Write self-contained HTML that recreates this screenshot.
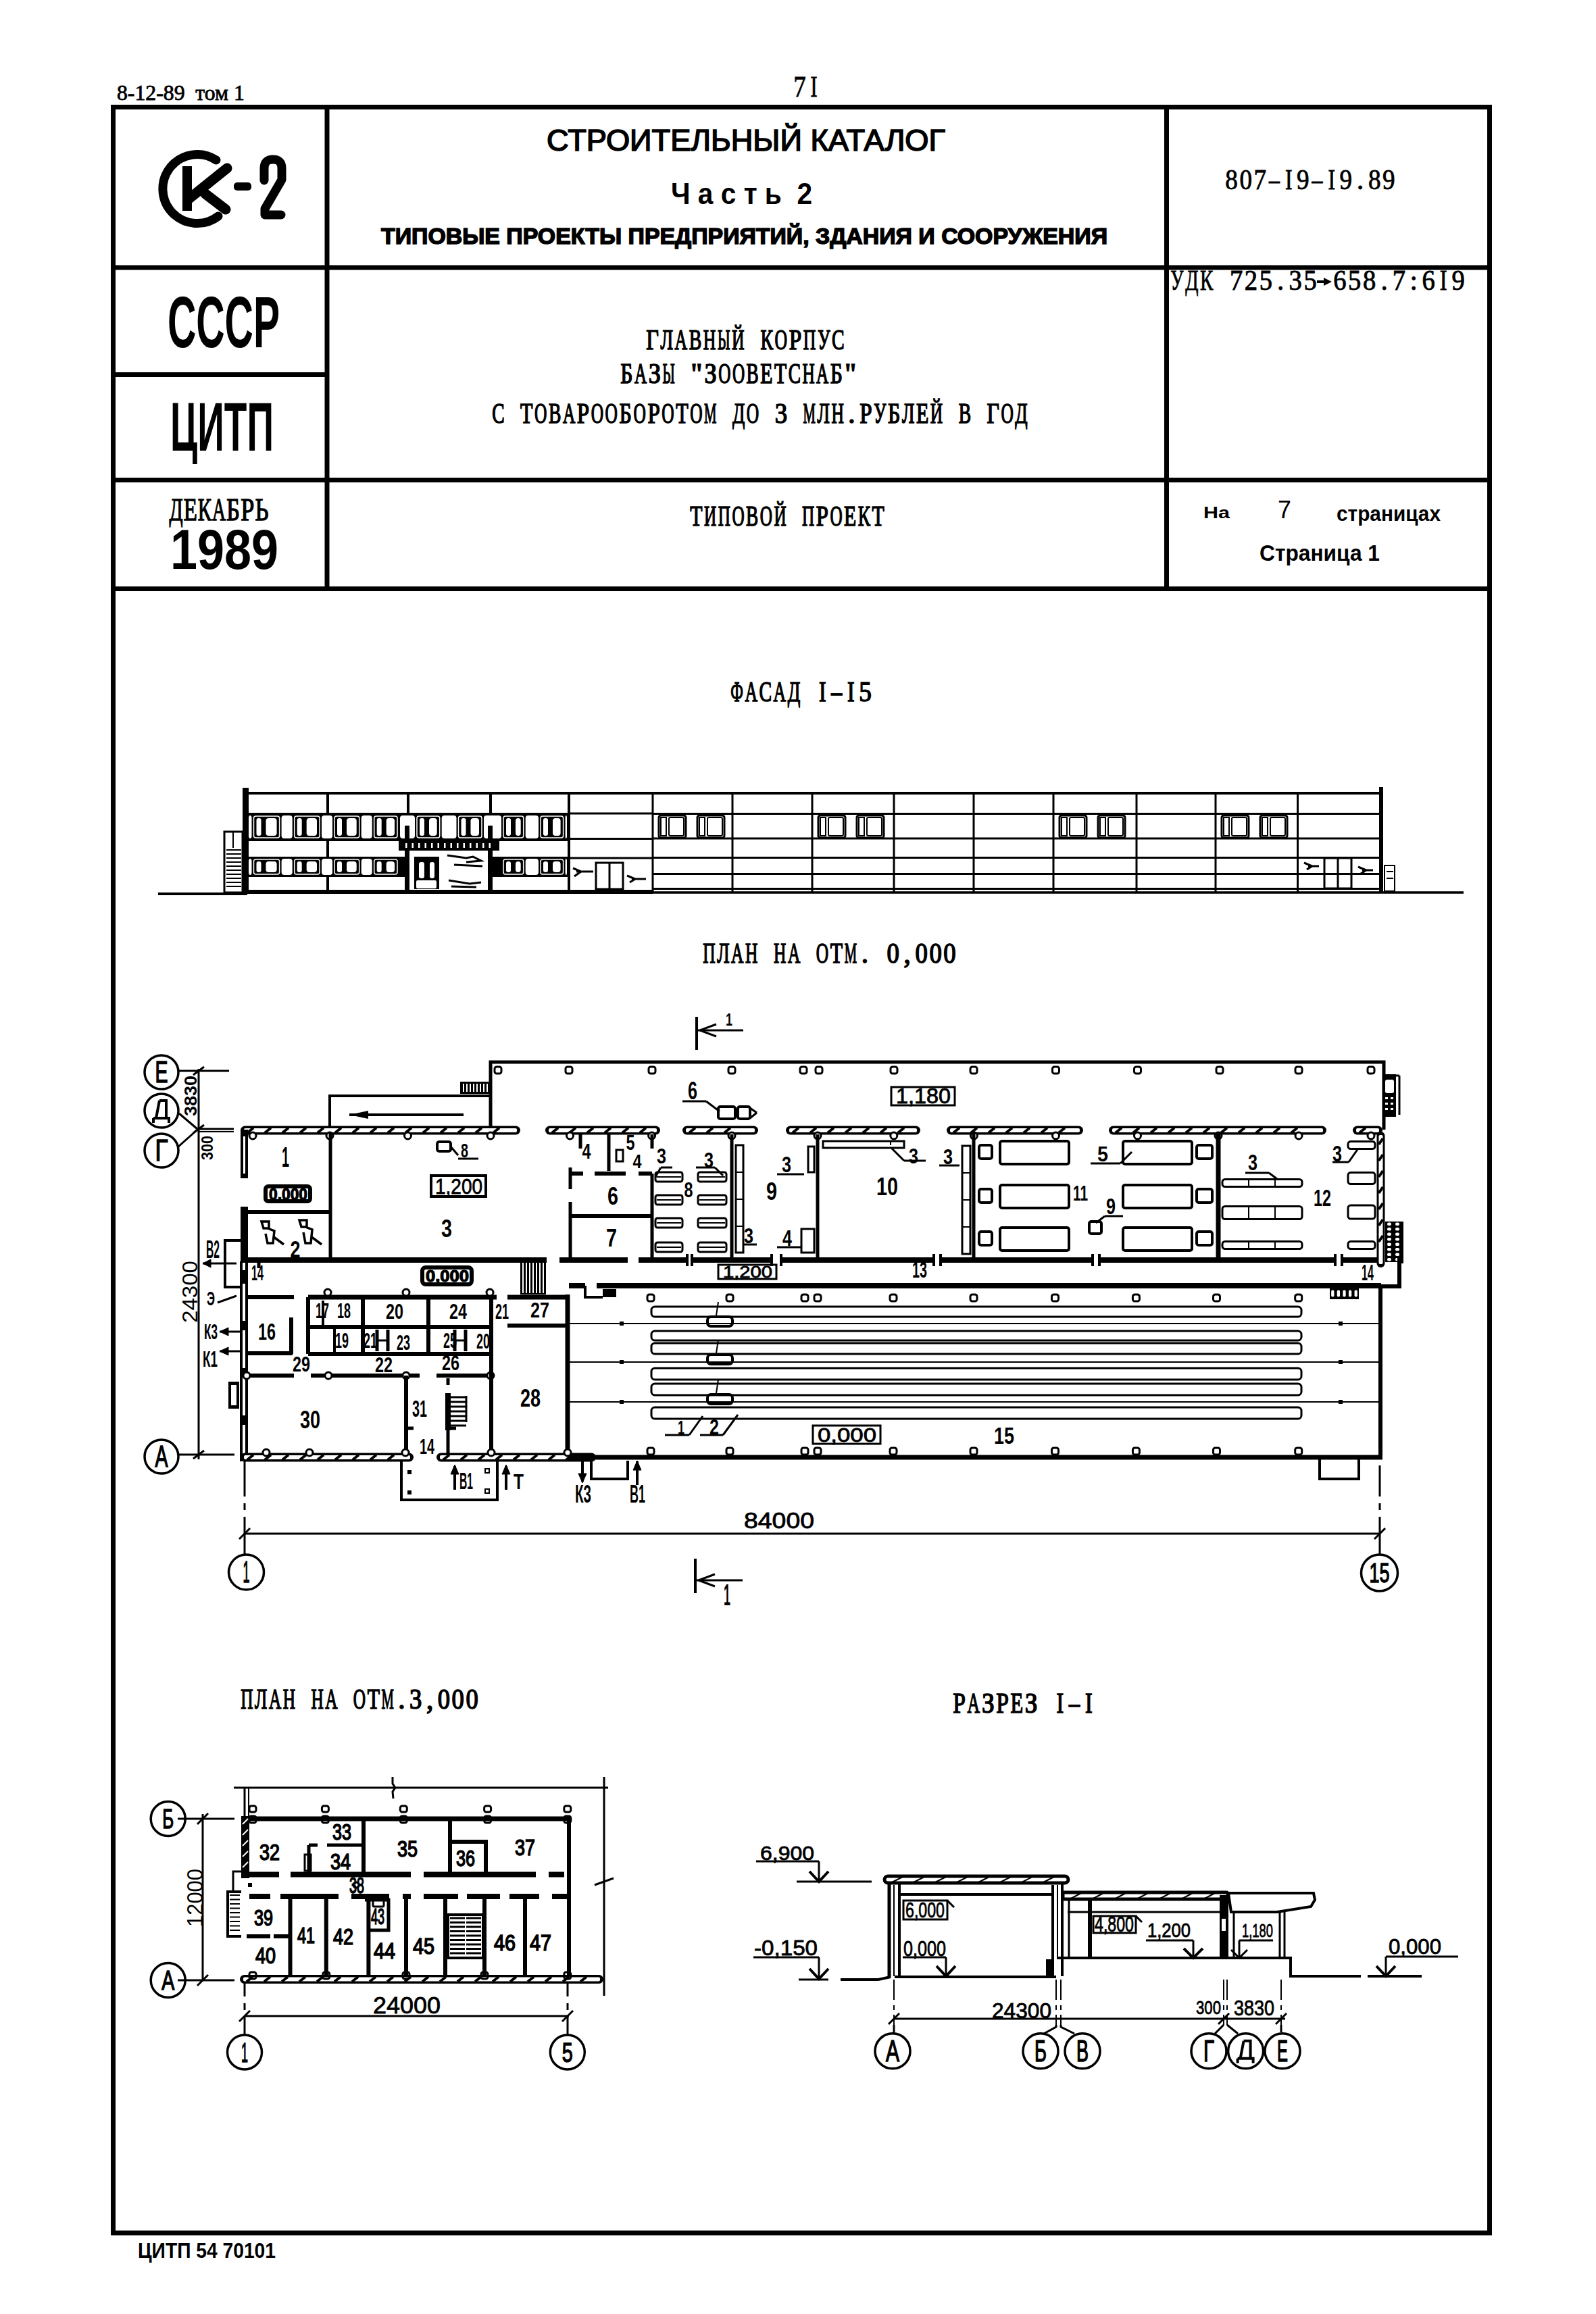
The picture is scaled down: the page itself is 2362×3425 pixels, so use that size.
<!DOCTYPE html>
<html><head><meta charset="utf-8"><style>
html,body{margin:0;padding:0;background:#fff;}
svg{display:block;}
</style></head><body>
<svg width="2362" height="3425" viewBox="0 0 2362 3425">
<rect x="0" y="0" width="2362" height="3425" fill="#fff"/>
<g stroke="#000" stroke-linecap="butt" fill="none">
<rect x="167.5" y="158.5" width="2037" height="3146.5" fill="none" stroke-width="7" rx="0"/>
<line x1="484" y1="157" x2="484" y2="871" stroke-width="7"/>
<line x1="1726.5" y1="157" x2="1726.5" y2="871" stroke-width="7"/>
<line x1="166" y1="396" x2="2205" y2="396" stroke-width="7"/>
<line x1="166" y1="554.5" x2="484" y2="554.5" stroke-width="7"/>
<line x1="166" y1="710.5" x2="2205" y2="710.5" stroke-width="7"/>
<line x1="166" y1="871.5" x2="2205" y2="871.5" stroke-width="7"/>
<text x="173" y="148" font-family="Liberation Serif" font-size="30.5" font-weight="normal" textLength="189.0" lengthAdjust="spacingAndGlyphs" stroke="#000" stroke-width="0.8" fill="#000" >8-12-89&#160;&#160;том 1</text>
<g font-family="Liberation Serif" font-size="44.3" font-weight="normal" stroke="#000" stroke-width="0.8" fill="#000"><text x="1174.3" y="143" textLength="18.5" lengthAdjust="spacingAndGlyphs">7</text><text x="1199.2" y="143" textLength="10.5" lengthAdjust="spacingAndGlyphs">I</text></g>
<path d="M320,237 A51,51 0 1 0 323,320" fill="none" stroke-width="13" stroke-linecap="round"/>
<path d="M277,246 L277,312" fill="none" stroke-width="14"/>
<path d="M280,294 L336,249 M304,287 L334,310" fill="none" stroke-width="15" stroke-linecap="round"/>
<rect x="346" y="270" width="26" height="12" fill="#000" stroke="none" rx="5"/>
<path d="M391,267 L391,249 Q391,236 404,236 Q417,236 417,249 L417,266 L392,309 L392,318 L416,318" fill="none" stroke-width="13" stroke-linecap="round" stroke-linejoin="round"/>
<text x="809" y="223" font-family="Liberation Sans" font-size="43.6" font-weight="normal" textLength="590.0" lengthAdjust="spacingAndGlyphs" stroke="#000" stroke-width="1.6" fill="#000" >СТРОИТЕЛЬНЫЙ&#160;КАТАЛОГ</text>
<text x="993" y="302" font-family="Liberation Sans" font-size="43.6" font-weight="bold" textLength="209.0" lengthAdjust="spacingAndGlyphs" stroke="none" fill="#000" >Ч&#160;а&#160;с&#160;т&#160;ь&#160;&#160;2</text>
<text x="564" y="361" font-family="Liberation Sans" font-size="33.4" font-weight="bold" textLength="1075.0" lengthAdjust="spacingAndGlyphs" stroke="#000" stroke-width="1.5" fill="#000" >ТИПОВЫЕ ПРОЕКТЫ ПРЕДПРИЯТИЙ, ЗДАНИЯ И СООРУЖЕНИЯ</text>
<g font-family="Liberation Serif" font-size="42.7" font-weight="normal" stroke="#000" stroke-width="0.9" fill="#000"><text x="1813.3" y="280" textLength="18.6" lengthAdjust="spacingAndGlyphs">8</text><text x="1834.4" y="280" textLength="18.6" lengthAdjust="spacingAndGlyphs">0</text><text x="1855.6" y="280" textLength="18.6" lengthAdjust="spacingAndGlyphs">7</text><text x="1878.1" y="280" textLength="15.9" lengthAdjust="spacingAndGlyphs">–</text><text x="1902.0" y="280" textLength="10.6" lengthAdjust="spacingAndGlyphs">I</text><text x="1919.1" y="280" textLength="18.6" lengthAdjust="spacingAndGlyphs">9</text><text x="1941.6" y="280" textLength="15.9" lengthAdjust="spacingAndGlyphs">–</text><text x="1965.5" y="280" textLength="10.6" lengthAdjust="spacingAndGlyphs">I</text><text x="1982.6" y="280" textLength="18.6" lengthAdjust="spacingAndGlyphs">9</text><text x="2013.1" y="280" text-anchor="middle">.</text><text x="2024.9" y="280" textLength="18.6" lengthAdjust="spacingAndGlyphs">8</text><text x="2046.1" y="280" textLength="18.6" lengthAdjust="spacingAndGlyphs">9</text></g>
<g font-family="Liberation Serif" font-size="41.2" font-weight="normal" stroke="#000" stroke-width="0.9" fill="#000"><text x="1732.3" y="429" textLength="19.3" lengthAdjust="spacingAndGlyphs">У</text><text x="1754.2" y="429" textLength="19.3" lengthAdjust="spacingAndGlyphs">Д</text><text x="1776.1" y="429" textLength="19.3" lengthAdjust="spacingAndGlyphs">К</text><text x="1819.9" y="429" textLength="19.3" lengthAdjust="spacingAndGlyphs">7</text><text x="1841.8" y="429" textLength="19.3" lengthAdjust="spacingAndGlyphs">2</text><text x="1863.7" y="429" textLength="19.3" lengthAdjust="spacingAndGlyphs">5</text><text x="1895.2" y="429" text-anchor="middle">.</text><text x="1907.5" y="429" textLength="19.3" lengthAdjust="spacingAndGlyphs">3</text><text x="1929.4" y="429" textLength="19.3" lengthAdjust="spacingAndGlyphs">5</text><text x="1973.2" y="429" textLength="19.3" lengthAdjust="spacingAndGlyphs">6</text><text x="1995.1" y="429" textLength="19.3" lengthAdjust="spacingAndGlyphs">5</text><text x="2017.0" y="429" textLength="19.3" lengthAdjust="spacingAndGlyphs">8</text><text x="2048.6" y="429" text-anchor="middle">.</text><text x="2060.8" y="429" textLength="19.3" lengthAdjust="spacingAndGlyphs">7</text><text x="2092.3" y="429" text-anchor="middle">:</text><text x="2104.6" y="429" textLength="19.3" lengthAdjust="spacingAndGlyphs">6</text><text x="2130.7" y="429" textLength="10.9" lengthAdjust="spacingAndGlyphs">I</text><text x="2148.4" y="429" textLength="19.3" lengthAdjust="spacingAndGlyphs">9</text></g>
<line x1="1949" y1="417" x2="1962" y2="417" stroke-width="4"/>
<path d="M1959,411 L1971,417 L1959,423 Z" fill="#000" stroke="none"/>
<text x="248" y="514" font-family="Liberation Sans" font-size="107.6" font-weight="bold" textLength="166.0" lengthAdjust="spacingAndGlyphs" stroke="none" fill="#000" >СССР</text>
<text x="252" y="667" font-family="Liberation Sans" font-size="101.7" font-weight="bold" textLength="153.0" lengthAdjust="spacingAndGlyphs" stroke="none" fill="#000" >ЦИТП</text>
<g font-family="Liberation Serif" font-size="47.3" font-weight="normal" stroke="#000" stroke-width="1.4" fill="#000"><text x="250.5" y="770" textLength="20.1" lengthAdjust="spacingAndGlyphs">Д</text><text x="271.7" y="770" textLength="20.1" lengthAdjust="spacingAndGlyphs">Е</text><text x="292.8" y="770" textLength="20.1" lengthAdjust="spacingAndGlyphs">К</text><text x="314.0" y="770" textLength="20.1" lengthAdjust="spacingAndGlyphs">А</text><text x="335.1" y="770" textLength="20.1" lengthAdjust="spacingAndGlyphs">Б</text><text x="356.2" y="770" textLength="20.1" lengthAdjust="spacingAndGlyphs">Р</text><text x="377.4" y="770" textLength="20.1" lengthAdjust="spacingAndGlyphs">Ь</text></g>
<text x="252" y="842" font-family="Liberation Sans" font-size="84.3" font-weight="bold" textLength="160.0" lengthAdjust="spacingAndGlyphs" stroke="none" fill="#000" >1989</text>
<g font-family="Liberation Serif" font-size="41.2" font-weight="normal" stroke="#000" stroke-width="1.6" fill="#000"><text x="956.3" y="517" textLength="18.6" lengthAdjust="spacingAndGlyphs">Г</text><text x="977.4" y="517" textLength="18.6" lengthAdjust="spacingAndGlyphs">Л</text><text x="998.6" y="517" textLength="18.6" lengthAdjust="spacingAndGlyphs">А</text><text x="1019.7" y="517" textLength="18.6" lengthAdjust="spacingAndGlyphs">В</text><text x="1040.8" y="517" textLength="18.6" lengthAdjust="spacingAndGlyphs">Н</text><text x="1062.0" y="517" textLength="18.6" lengthAdjust="spacingAndGlyphs">Ы</text><text x="1083.1" y="517" textLength="18.6" lengthAdjust="spacingAndGlyphs">Й</text><text x="1125.4" y="517" textLength="18.6" lengthAdjust="spacingAndGlyphs">К</text><text x="1146.6" y="517" textLength="18.6" lengthAdjust="spacingAndGlyphs">О</text><text x="1167.7" y="517" textLength="18.6" lengthAdjust="spacingAndGlyphs">Р</text><text x="1188.8" y="517" textLength="18.6" lengthAdjust="spacingAndGlyphs">П</text><text x="1210.0" y="517" textLength="18.6" lengthAdjust="spacingAndGlyphs">У</text><text x="1231.1" y="517" textLength="18.6" lengthAdjust="spacingAndGlyphs">С</text></g>
<g font-family="Liberation Serif" font-size="41.2" font-weight="normal" stroke="#000" stroke-width="1.6" fill="#000"><text x="918.2" y="567" textLength="18.2" lengthAdjust="spacingAndGlyphs">Б</text><text x="938.9" y="567" textLength="18.2" lengthAdjust="spacingAndGlyphs">А</text><text x="959.7" y="567" textLength="18.2" lengthAdjust="spacingAndGlyphs">З</text><text x="980.4" y="567" textLength="18.2" lengthAdjust="spacingAndGlyphs">Ы</text><text x="1030.9" y="567" text-anchor="middle">&quot;</text><text x="1042.5" y="567" textLength="18.2" lengthAdjust="spacingAndGlyphs">З</text><text x="1063.2" y="567" textLength="18.2" lengthAdjust="spacingAndGlyphs">О</text><text x="1083.9" y="567" textLength="18.2" lengthAdjust="spacingAndGlyphs">О</text><text x="1104.6" y="567" textLength="18.2" lengthAdjust="spacingAndGlyphs">В</text><text x="1125.3" y="567" textLength="18.2" lengthAdjust="spacingAndGlyphs">Е</text><text x="1146.0" y="567" textLength="18.2" lengthAdjust="spacingAndGlyphs">Т</text><text x="1166.7" y="567" textLength="18.2" lengthAdjust="spacingAndGlyphs">С</text><text x="1187.4" y="567" textLength="18.2" lengthAdjust="spacingAndGlyphs">Н</text><text x="1208.1" y="567" textLength="18.2" lengthAdjust="spacingAndGlyphs">А</text><text x="1228.8" y="567" textLength="18.2" lengthAdjust="spacingAndGlyphs">Б</text><text x="1258.6" y="567" text-anchor="middle">&quot;</text></g>
<g font-family="Liberation Serif" font-size="41.2" font-weight="normal" stroke="#000" stroke-width="1.6" fill="#000"><text x="728.3" y="626" textLength="18.4" lengthAdjust="spacingAndGlyphs">С</text><text x="770.1" y="626" textLength="18.4" lengthAdjust="spacingAndGlyphs">Т</text><text x="791.0" y="626" textLength="18.4" lengthAdjust="spacingAndGlyphs">О</text><text x="811.9" y="626" textLength="18.4" lengthAdjust="spacingAndGlyphs">В</text><text x="832.9" y="626" textLength="18.4" lengthAdjust="spacingAndGlyphs">А</text><text x="853.8" y="626" textLength="18.4" lengthAdjust="spacingAndGlyphs">Р</text><text x="874.7" y="626" textLength="18.4" lengthAdjust="spacingAndGlyphs">О</text><text x="895.6" y="626" textLength="18.4" lengthAdjust="spacingAndGlyphs">О</text><text x="916.5" y="626" textLength="18.4" lengthAdjust="spacingAndGlyphs">Б</text><text x="937.5" y="626" textLength="18.4" lengthAdjust="spacingAndGlyphs">О</text><text x="958.4" y="626" textLength="18.4" lengthAdjust="spacingAndGlyphs">Р</text><text x="979.3" y="626" textLength="18.4" lengthAdjust="spacingAndGlyphs">О</text><text x="1000.2" y="626" textLength="18.4" lengthAdjust="spacingAndGlyphs">Т</text><text x="1021.2" y="626" textLength="18.4" lengthAdjust="spacingAndGlyphs">О</text><text x="1042.1" y="626" textLength="18.4" lengthAdjust="spacingAndGlyphs">М</text><text x="1083.9" y="626" textLength="18.4" lengthAdjust="spacingAndGlyphs">Д</text><text x="1104.8" y="626" textLength="18.4" lengthAdjust="spacingAndGlyphs">О</text><text x="1146.7" y="626" textLength="18.4" lengthAdjust="spacingAndGlyphs">3</text><text x="1188.5" y="626" textLength="18.4" lengthAdjust="spacingAndGlyphs">М</text><text x="1209.4" y="626" textLength="18.4" lengthAdjust="spacingAndGlyphs">Л</text><text x="1230.4" y="626" textLength="18.4" lengthAdjust="spacingAndGlyphs">Н</text><text x="1260.5" y="626" text-anchor="middle">.</text><text x="1272.2" y="626" textLength="18.4" lengthAdjust="spacingAndGlyphs">Р</text><text x="1293.1" y="626" textLength="18.4" lengthAdjust="spacingAndGlyphs">У</text><text x="1314.0" y="626" textLength="18.4" lengthAdjust="spacingAndGlyphs">Б</text><text x="1335.0" y="626" textLength="18.4" lengthAdjust="spacingAndGlyphs">Л</text><text x="1355.9" y="626" textLength="18.4" lengthAdjust="spacingAndGlyphs">Е</text><text x="1376.8" y="626" textLength="18.4" lengthAdjust="spacingAndGlyphs">Й</text><text x="1418.7" y="626" textLength="18.4" lengthAdjust="spacingAndGlyphs">В</text><text x="1460.5" y="626" textLength="18.4" lengthAdjust="spacingAndGlyphs">Г</text><text x="1481.4" y="626" textLength="18.4" lengthAdjust="spacingAndGlyphs">О</text><text x="1502.3" y="626" textLength="18.4" lengthAdjust="spacingAndGlyphs">Д</text></g>
<g font-family="Liberation Serif" font-size="42.7" font-weight="normal" stroke="#000" stroke-width="1.6" fill="#000"><text x="1021.2" y="778" textLength="18.2" lengthAdjust="spacingAndGlyphs">Т</text><text x="1042.0" y="778" textLength="18.2" lengthAdjust="spacingAndGlyphs">И</text><text x="1062.7" y="778" textLength="18.2" lengthAdjust="spacingAndGlyphs">П</text><text x="1083.4" y="778" textLength="18.2" lengthAdjust="spacingAndGlyphs">О</text><text x="1104.1" y="778" textLength="18.2" lengthAdjust="spacingAndGlyphs">В</text><text x="1124.8" y="778" textLength="18.2" lengthAdjust="spacingAndGlyphs">О</text><text x="1145.5" y="778" textLength="18.2" lengthAdjust="spacingAndGlyphs">Й</text><text x="1187.0" y="778" textLength="18.2" lengthAdjust="spacingAndGlyphs">П</text><text x="1207.7" y="778" textLength="18.2" lengthAdjust="spacingAndGlyphs">Р</text><text x="1228.4" y="778" textLength="18.2" lengthAdjust="spacingAndGlyphs">О</text><text x="1249.1" y="778" textLength="18.2" lengthAdjust="spacingAndGlyphs">Е</text><text x="1269.8" y="778" textLength="18.2" lengthAdjust="spacingAndGlyphs">К</text><text x="1290.5" y="778" textLength="18.2" lengthAdjust="spacingAndGlyphs">Т</text></g>
<text x="1781" y="767" font-family="Liberation Sans" font-size="24.7" font-weight="bold" textLength="39.0" lengthAdjust="spacingAndGlyphs" stroke="none" fill="#000" >На</text>
<text x="1891" y="767" font-family="Liberation Sans" font-size="36.3" font-weight="normal" textLength="20.0" lengthAdjust="spacingAndGlyphs" stroke="none" fill="#000" >7</text>
<text x="1978" y="771" font-family="Liberation Sans" font-size="30.5" font-weight="bold" textLength="154.0" lengthAdjust="spacingAndGlyphs" stroke="none" fill="#000" >страницах</text>
<text x="1864" y="830" font-family="Liberation Sans" font-size="33.4" font-weight="bold" textLength="178.0" lengthAdjust="spacingAndGlyphs" stroke="none" fill="#000" >Страница 1</text>
<text x="204" y="3342" font-family="Liberation Sans" font-size="30.5" font-weight="bold" textLength="204.0" lengthAdjust="spacingAndGlyphs" stroke="none" fill="#000" >ЦИТП 54 70101</text>
<g font-family="Liberation Serif" font-size="41.2" font-weight="normal" stroke="#000" stroke-width="1.6" fill="#000"><text x="1081.3" y="1038" textLength="18.6" lengthAdjust="spacingAndGlyphs">Ф</text><text x="1102.4" y="1038" textLength="18.6" lengthAdjust="spacingAndGlyphs">А</text><text x="1123.5" y="1038" textLength="18.6" lengthAdjust="spacingAndGlyphs">С</text><text x="1144.6" y="1038" textLength="18.6" lengthAdjust="spacingAndGlyphs">А</text><text x="1165.7" y="1038" textLength="18.6" lengthAdjust="spacingAndGlyphs">Д</text><text x="1211.9" y="1038" textLength="10.6" lengthAdjust="spacingAndGlyphs">I</text><text x="1230.3" y="1038" textLength="15.8" lengthAdjust="spacingAndGlyphs">–</text><text x="1254.1" y="1038" textLength="10.6" lengthAdjust="spacingAndGlyphs">I</text><text x="1271.2" y="1038" textLength="18.6" lengthAdjust="spacingAndGlyphs">5</text></g>
<g font-family="Liberation Serif" font-size="41.2" font-weight="normal" stroke="#000" stroke-width="1.6" fill="#000"><text x="1040.3" y="1425" textLength="18.4" lengthAdjust="spacingAndGlyphs">П</text><text x="1061.2" y="1425" textLength="18.4" lengthAdjust="spacingAndGlyphs">Л</text><text x="1082.1" y="1425" textLength="18.4" lengthAdjust="spacingAndGlyphs">А</text><text x="1103.1" y="1425" textLength="18.4" lengthAdjust="spacingAndGlyphs">Н</text><text x="1145.0" y="1425" textLength="18.4" lengthAdjust="spacingAndGlyphs">Н</text><text x="1165.9" y="1425" textLength="18.4" lengthAdjust="spacingAndGlyphs">А</text><text x="1207.8" y="1425" textLength="18.4" lengthAdjust="spacingAndGlyphs">О</text><text x="1228.8" y="1425" textLength="18.4" lengthAdjust="spacingAndGlyphs">Т</text><text x="1249.7" y="1425" textLength="18.4" lengthAdjust="spacingAndGlyphs">М</text><text x="1279.9" y="1425" text-anchor="middle">.</text><text x="1312.5" y="1425" textLength="18.4" lengthAdjust="spacingAndGlyphs">0</text><text x="1342.7" y="1425" text-anchor="middle">,</text><text x="1354.4" y="1425" textLength="18.4" lengthAdjust="spacingAndGlyphs">0</text><text x="1375.4" y="1425" textLength="18.4" lengthAdjust="spacingAndGlyphs">0</text><text x="1396.3" y="1425" textLength="18.4" lengthAdjust="spacingAndGlyphs">0</text></g>
<g font-family="Liberation Serif" font-size="41.2" font-weight="normal" stroke="#000" stroke-width="1.6" fill="#000"><text x="356.2" y="2529" textLength="18.3" lengthAdjust="spacingAndGlyphs">П</text><text x="377.1" y="2529" textLength="18.3" lengthAdjust="spacingAndGlyphs">Л</text><text x="397.9" y="2529" textLength="18.3" lengthAdjust="spacingAndGlyphs">А</text><text x="418.7" y="2529" textLength="18.3" lengthAdjust="spacingAndGlyphs">Н</text><text x="460.4" y="2529" textLength="18.3" lengthAdjust="spacingAndGlyphs">Н</text><text x="481.2" y="2529" textLength="18.3" lengthAdjust="spacingAndGlyphs">А</text><text x="522.8" y="2529" textLength="18.3" lengthAdjust="spacingAndGlyphs">О</text><text x="543.7" y="2529" textLength="18.3" lengthAdjust="spacingAndGlyphs">Т</text><text x="564.5" y="2529" textLength="18.3" lengthAdjust="spacingAndGlyphs">М</text><text x="594.5" y="2529" text-anchor="middle">.</text><text x="606.1" y="2529" textLength="18.3" lengthAdjust="spacingAndGlyphs">3</text><text x="636.1" y="2529" text-anchor="middle">,</text><text x="647.8" y="2529" textLength="18.3" lengthAdjust="spacingAndGlyphs">0</text><text x="668.6" y="2529" textLength="18.3" lengthAdjust="spacingAndGlyphs">0</text><text x="689.4" y="2529" textLength="18.3" lengthAdjust="spacingAndGlyphs">0</text></g>
<g font-family="Liberation Serif" font-size="42.7" font-weight="normal" stroke="#000" stroke-width="1.6" fill="#000"><text x="1410.3" y="2535" textLength="18.7" lengthAdjust="spacingAndGlyphs">Р</text><text x="1431.6" y="2535" textLength="18.7" lengthAdjust="spacingAndGlyphs">А</text><text x="1452.9" y="2535" textLength="18.7" lengthAdjust="spacingAndGlyphs">З</text><text x="1474.2" y="2535" textLength="18.7" lengthAdjust="spacingAndGlyphs">Р</text><text x="1495.5" y="2535" textLength="18.7" lengthAdjust="spacingAndGlyphs">Е</text><text x="1516.8" y="2535" textLength="18.7" lengthAdjust="spacingAndGlyphs">З</text><text x="1563.4" y="2535" textLength="10.7" lengthAdjust="spacingAndGlyphs">I</text><text x="1582.1" y="2535" textLength="16.0" lengthAdjust="spacingAndGlyphs">–</text><text x="1606.0" y="2535" textLength="10.7" lengthAdjust="spacingAndGlyphs">I</text></g>
<line x1="234" y1="1323" x2="366" y2="1323" stroke-width="4"/>
<line x1="366" y1="1320" x2="966" y2="1320" stroke-width="6"/>
<line x1="966" y1="1321" x2="2166" y2="1321" stroke-width="3.5"/>
<rect x="359" y="1166" width="9" height="157" fill="#000" stroke="none" rx="0"/>
<line x1="366" y1="1174" x2="2047" y2="1174" stroke-width="4"/>
<rect x="366" y="1203" width="474" height="42" fill="#000" stroke="none" rx="0"/>
<rect x="366" y="1268" width="235" height="30" fill="#000" stroke="none" rx="0"/>
<rect x="729" y="1268" width="111" height="30" fill="#000" stroke="none" rx="0"/>
<rect x="375.5" y="1208" width="38.10000000000002" height="32" fill="none" stroke="#fff" stroke-width="1.5" rx="3"/>
<rect x="379.5" y="1211" width="7" height="26" fill="#fff" stroke="none" rx="3"/>
<rect x="393.5" y="1211" width="16.100000000000023" height="26" fill="#fff" stroke="none" rx="4"/>
<rect x="435.7" y="1208" width="37.30000000000001" height="32" fill="none" stroke="#fff" stroke-width="1.5" rx="3"/>
<rect x="439.7" y="1211" width="7" height="26" fill="#fff" stroke="none" rx="3"/>
<rect x="453.7" y="1211" width="15.300000000000011" height="26" fill="#fff" stroke="none" rx="4"/>
<rect x="495" y="1208" width="36.700000000000045" height="32" fill="none" stroke="#fff" stroke-width="1.5" rx="3"/>
<rect x="499" y="1211" width="7" height="26" fill="#fff" stroke="none" rx="3"/>
<rect x="513" y="1211" width="14.700000000000045" height="26" fill="#fff" stroke="none" rx="4"/>
<rect x="553.7" y="1208" width="34.299999999999955" height="32" fill="none" stroke="#fff" stroke-width="1.5" rx="3"/>
<rect x="557.7" y="1211" width="7" height="26" fill="#fff" stroke="none" rx="3"/>
<rect x="571.7" y="1211" width="12.299999999999955" height="26" fill="#fff" stroke="none" rx="4"/>
<rect x="617" y="1208" width="33.700000000000045" height="32" fill="none" stroke="#fff" stroke-width="1.5" rx="3"/>
<rect x="621" y="1211" width="7" height="26" fill="#fff" stroke="none" rx="3"/>
<rect x="635" y="1211" width="11.700000000000045" height="26" fill="#fff" stroke="none" rx="4"/>
<rect x="678.5" y="1208" width="34.5" height="32" fill="none" stroke="#fff" stroke-width="1.5" rx="3"/>
<rect x="682.5" y="1211" width="7" height="26" fill="#fff" stroke="none" rx="3"/>
<rect x="696.5" y="1211" width="12.5" height="26" fill="#fff" stroke="none" rx="4"/>
<rect x="745" y="1208" width="29.700000000000045" height="32" fill="none" stroke="#fff" stroke-width="1.5" rx="3"/>
<rect x="749" y="1211" width="7" height="26" fill="#fff" stroke="none" rx="3"/>
<rect x="763" y="1211" width="7.7000000000000455" height="26" fill="#fff" stroke="none" rx="4"/>
<rect x="800" y="1208" width="33.60000000000002" height="32" fill="none" stroke="#fff" stroke-width="1.5" rx="3"/>
<rect x="804" y="1211" width="7" height="26" fill="#fff" stroke="none" rx="3"/>
<rect x="818" y="1211" width="11.600000000000023" height="26" fill="#fff" stroke="none" rx="4"/>
<rect x="368" y="1207" width="4.5" height="34" fill="#fff" stroke="none" rx="4"/>
<rect x="416.6" y="1207" width="16.099999999999966" height="34" fill="#fff" stroke="none" rx="4"/>
<rect x="476" y="1207" width="16" height="34" fill="#fff" stroke="none" rx="4"/>
<rect x="534.7" y="1207" width="16.0" height="34" fill="#fff" stroke="none" rx="4"/>
<rect x="592" y="1207" width="22" height="34" fill="#fff" stroke="none" rx="4"/>
<rect x="653.7" y="1207" width="21.799999999999955" height="34" fill="#fff" stroke="none" rx="4"/>
<rect x="716" y="1207" width="26" height="34" fill="#fff" stroke="none" rx="4"/>
<rect x="777.7" y="1207" width="19.299999999999955" height="34" fill="#fff" stroke="none" rx="4"/>
<rect x="836.6" y="1207" width="2.3999999999999773" height="34" fill="#fff" stroke="none" rx="4"/>
<rect x="375.5" y="1272" width="38.10000000000002" height="22" fill="none" stroke="#fff" stroke-width="1.5" rx="3"/>
<rect x="379.5" y="1275" width="7" height="16" fill="#fff" stroke="none" rx="3"/>
<rect x="393.5" y="1275" width="16.100000000000023" height="16" fill="#fff" stroke="none" rx="4"/>
<rect x="435.7" y="1272" width="37.30000000000001" height="22" fill="none" stroke="#fff" stroke-width="1.5" rx="3"/>
<rect x="439.7" y="1275" width="7" height="16" fill="#fff" stroke="none" rx="3"/>
<rect x="453.7" y="1275" width="15.300000000000011" height="16" fill="#fff" stroke="none" rx="4"/>
<rect x="495" y="1272" width="36.700000000000045" height="22" fill="none" stroke="#fff" stroke-width="1.5" rx="3"/>
<rect x="499" y="1275" width="7" height="16" fill="#fff" stroke="none" rx="3"/>
<rect x="513" y="1275" width="14.700000000000045" height="16" fill="#fff" stroke="none" rx="4"/>
<rect x="553.7" y="1272" width="34.299999999999955" height="22" fill="none" stroke="#fff" stroke-width="1.5" rx="3"/>
<rect x="557.7" y="1275" width="7" height="16" fill="#fff" stroke="none" rx="3"/>
<rect x="571.7" y="1275" width="12.299999999999955" height="16" fill="#fff" stroke="none" rx="4"/>
<rect x="745" y="1272" width="29.700000000000045" height="22" fill="none" stroke="#fff" stroke-width="1.5" rx="3"/>
<rect x="749" y="1275" width="7" height="16" fill="#fff" stroke="none" rx="3"/>
<rect x="763" y="1275" width="7.7000000000000455" height="16" fill="#fff" stroke="none" rx="4"/>
<rect x="800" y="1272" width="33.60000000000002" height="22" fill="none" stroke="#fff" stroke-width="1.5" rx="3"/>
<rect x="804" y="1275" width="7" height="16" fill="#fff" stroke="none" rx="3"/>
<rect x="818" y="1275" width="11.600000000000023" height="16" fill="#fff" stroke="none" rx="4"/>
<rect x="368" y="1271" width="4.5" height="24" fill="#fff" stroke="none" rx="4"/>
<rect x="416.6" y="1271" width="16.099999999999966" height="24" fill="#fff" stroke="none" rx="4"/>
<rect x="476" y="1271" width="16" height="24" fill="#fff" stroke="none" rx="4"/>
<rect x="534.7" y="1271" width="16.0" height="24" fill="#fff" stroke="none" rx="4"/>
<rect x="777.7" y="1271" width="19.299999999999955" height="24" fill="#fff" stroke="none" rx="4"/>
<rect x="836.6" y="1271" width="2.3999999999999773" height="24" fill="#fff" stroke="none" rx="4"/>
<line x1="485" y1="1176" x2="485" y2="1203" stroke-width="4"/>
<line x1="485" y1="1245" x2="485" y2="1268" stroke-width="4"/>
<line x1="485" y1="1298" x2="485" y2="1318" stroke-width="4"/>
<line x1="604" y1="1176" x2="604" y2="1203" stroke-width="4"/>
<line x1="726" y1="1176" x2="726" y2="1203" stroke-width="4"/>
<rect x="599" y="1222" width="7" height="96" fill="#000" stroke="none" rx="0"/>
<rect x="722" y="1222" width="7" height="96" fill="#000" stroke="none" rx="0"/>
<rect x="590" y="1244" width="149" height="15" fill="#000" stroke="none" rx="0"/>
<rect x="600.0" y="1248" width="2.5" height="7" fill="#fff" stroke="none" rx="0"/>
<rect x="609.5" y="1248" width="2.5" height="7" fill="#fff" stroke="none" rx="0"/>
<rect x="619.0" y="1248" width="2.5" height="7" fill="#fff" stroke="none" rx="0"/>
<rect x="628.5" y="1248" width="2.5" height="7" fill="#fff" stroke="none" rx="0"/>
<rect x="638.0" y="1248" width="2.5" height="7" fill="#fff" stroke="none" rx="0"/>
<rect x="647.5" y="1248" width="2.5" height="7" fill="#fff" stroke="none" rx="0"/>
<rect x="657.0" y="1248" width="2.5" height="7" fill="#fff" stroke="none" rx="0"/>
<rect x="666.5" y="1248" width="2.5" height="7" fill="#fff" stroke="none" rx="0"/>
<rect x="676.0" y="1248" width="2.5" height="7" fill="#fff" stroke="none" rx="0"/>
<rect x="685.5" y="1248" width="2.5" height="7" fill="#fff" stroke="none" rx="0"/>
<rect x="695.0" y="1248" width="2.5" height="7" fill="#fff" stroke="none" rx="0"/>
<rect x="704.5" y="1248" width="2.5" height="7" fill="#fff" stroke="none" rx="0"/>
<rect x="714.0" y="1248" width="2.5" height="7" fill="#fff" stroke="none" rx="0"/>
<rect x="723.5" y="1248" width="2.5" height="7" fill="#fff" stroke="none" rx="0"/>
<rect x="613" y="1268" width="37" height="48" fill="#000" stroke="none" rx="0"/>
<rect x="620" y="1276" width="8" height="24" fill="#fff" stroke="none" rx="3"/>
<rect x="636" y="1276" width="7" height="24" fill="#fff" stroke="none" rx="3"/>
<rect x="616" y="1303" width="30" height="12" fill="#fff" stroke="none" rx="2"/>
<path d="M662,1266 L690,1270 L700,1268 L712,1274 L690,1276 M672,1280 L714,1282 M664,1303 L695,1308 L712,1306 M668,1312 L705,1313" stroke-width="3" fill="none"/>
<line x1="842" y1="1176" x2="842" y2="1318" stroke-width="4"/>
<line x1="842" y1="1204" x2="966" y2="1204" stroke-width="3"/>
<line x1="842" y1="1241.5" x2="966" y2="1241.5" stroke-width="3"/>
<line x1="842" y1="1270" x2="966" y2="1270" stroke-width="3"/>
<rect x="882" y="1277" width="40" height="39" fill="none" stroke-width="3" rx="0"/>
<line x1="902" y1="1277" x2="902" y2="1316" stroke-width="3"/>
<path d="M848,1285 L860,1290 L850,1297 M853,1290 L878,1290 M928,1296 L940,1301 L932,1306 M935,1301 L956,1301" stroke-width="3" fill="none"/>
<line x1="966" y1="1204.5" x2="2044" y2="1204.5" stroke-width="3"/>
<line x1="966" y1="1241" x2="2044" y2="1241" stroke-width="3"/>
<line x1="966" y1="1269.5" x2="2044" y2="1269.5" stroke-width="3"/>
<line x1="966" y1="1293.6" x2="2044" y2="1293.6" stroke-width="3"/>
<line x1="966" y1="1315.4" x2="2044" y2="1315.4" stroke-width="3"/>
<line x1="966" y1="1174" x2="966" y2="1320" stroke-width="3"/>
<line x1="1084" y1="1174" x2="1084" y2="1320" stroke-width="3"/>
<line x1="1202" y1="1174" x2="1202" y2="1320" stroke-width="3"/>
<line x1="1323" y1="1174" x2="1323" y2="1320" stroke-width="3"/>
<line x1="1441" y1="1174" x2="1441" y2="1320" stroke-width="3"/>
<line x1="1559" y1="1174" x2="1559" y2="1320" stroke-width="3"/>
<line x1="1682" y1="1174" x2="1682" y2="1320" stroke-width="3"/>
<line x1="1799" y1="1174" x2="1799" y2="1320" stroke-width="3"/>
<line x1="1920.5" y1="1174" x2="1920.5" y2="1320" stroke-width="3"/>
<rect x="2041" y="1165" width="6" height="156" fill="#000" stroke="none" rx="0"/>
<rect x="975" y="1207" width="40" height="33" fill="none" stroke-width="3" rx="3"/>
<rect x="978" y="1210" width="8" height="27" fill="none" stroke-width="2" rx="0"/>
<rect x="990" y="1210" width="22" height="27" fill="none" stroke-width="2" rx="2"/>
<rect x="1032" y="1207" width="40" height="33" fill="none" stroke-width="3" rx="3"/>
<rect x="1035" y="1210" width="8" height="27" fill="none" stroke-width="2" rx="0"/>
<rect x="1047" y="1210" width="22" height="27" fill="none" stroke-width="2" rx="2"/>
<rect x="1211" y="1207" width="40" height="33" fill="none" stroke-width="3" rx="3"/>
<rect x="1214" y="1210" width="8" height="27" fill="none" stroke-width="2" rx="0"/>
<rect x="1226" y="1210" width="22" height="27" fill="none" stroke-width="2" rx="2"/>
<rect x="1268" y="1207" width="40" height="33" fill="none" stroke-width="3" rx="3"/>
<rect x="1271" y="1210" width="8" height="27" fill="none" stroke-width="2" rx="0"/>
<rect x="1283" y="1210" width="22" height="27" fill="none" stroke-width="2" rx="2"/>
<rect x="1568" y="1207" width="40" height="33" fill="none" stroke-width="3" rx="3"/>
<rect x="1571" y="1210" width="8" height="27" fill="none" stroke-width="2" rx="0"/>
<rect x="1583" y="1210" width="22" height="27" fill="none" stroke-width="2" rx="2"/>
<rect x="1625" y="1207" width="40" height="33" fill="none" stroke-width="3" rx="3"/>
<rect x="1628" y="1210" width="8" height="27" fill="none" stroke-width="2" rx="0"/>
<rect x="1640" y="1210" width="22" height="27" fill="none" stroke-width="2" rx="2"/>
<rect x="1808" y="1207" width="40" height="33" fill="none" stroke-width="3" rx="3"/>
<rect x="1811" y="1210" width="8" height="27" fill="none" stroke-width="2" rx="0"/>
<rect x="1823" y="1210" width="22" height="27" fill="none" stroke-width="2" rx="2"/>
<rect x="1865" y="1207" width="40" height="33" fill="none" stroke-width="3" rx="3"/>
<rect x="1868" y="1210" width="8" height="27" fill="none" stroke-width="2" rx="0"/>
<rect x="1880" y="1210" width="22" height="27" fill="none" stroke-width="2" rx="2"/>
<rect x="1960" y="1270" width="40" height="45" fill="none" stroke-width="3" rx="0"/>
<line x1="1980" y1="1270" x2="1980" y2="1315" stroke-width="3"/>
<path d="M1930,1277 L1942,1282 L1934,1287 M1936,1282 L1952,1282 M2010,1283 L2022,1288 L2014,1293 M2016,1288 L2032,1288" stroke-width="3" fill="none"/>
<rect x="2049" y="1281" width="15" height="38" fill="none" stroke-width="2" rx="0"/>
<line x1="2052" y1="1290" x2="2062" y2="1290" stroke-width="2"/>
<line x1="2052" y1="1300" x2="2062" y2="1300" stroke-width="2"/>
<rect x="332" y="1231" width="27" height="90" fill="none" stroke-width="3" rx="0"/>
<line x1="335" y1="1258" x2="357" y2="1258" stroke-width="2"/>
<line x1="335" y1="1264" x2="357" y2="1264" stroke-width="2"/>
<line x1="335" y1="1270" x2="357" y2="1270" stroke-width="2"/>
<line x1="335" y1="1276" x2="357" y2="1276" stroke-width="2"/>
<line x1="335" y1="1282" x2="357" y2="1282" stroke-width="2"/>
<line x1="335" y1="1288" x2="357" y2="1288" stroke-width="2"/>
<line x1="335" y1="1294" x2="357" y2="1294" stroke-width="2"/>
<line x1="335" y1="1300" x2="357" y2="1300" stroke-width="2"/>
<line x1="335" y1="1306" x2="357" y2="1306" stroke-width="2"/>
<line x1="335" y1="1312" x2="357" y2="1312" stroke-width="2"/>
<line x1="345" y1="1232" x2="345" y2="1255" stroke-width="2"/>
<line x1="294" y1="1582" x2="294" y2="2160" stroke-width="3"/>
<line x1="286" y1="1591" x2="302" y2="1579" stroke-width="3"/>
<line x1="286" y1="1677" x2="302" y2="1665" stroke-width="3"/>
<line x1="286" y1="2159" x2="302" y2="2147" stroke-width="3"/>
<line x1="263" y1="1585" x2="339" y2="1585" stroke-width="3"/>
<line x1="294" y1="1671" x2="346" y2="1671" stroke-width="3"/>
<line x1="294" y1="1675" x2="346" y2="1675" stroke-width="2"/>
<line x1="263" y1="2153" x2="347" y2="2153" stroke-width="3"/>
<circle cx="239" cy="1587" r="25" fill="none" stroke-width="3.5"/>
<text x="229.5" y="1602.0" font-family="Liberation Sans" font-size="43.6" font-weight="normal" textLength="19.0" lengthAdjust="spacingAndGlyphs" stroke="#000" stroke-width="1.5" fill="#000" >Е</text>
<circle cx="239" cy="1644" r="25" fill="none" stroke-width="3.5"/>
<path d="M236,1629.0 L246,1629.0 L246,1655.0 M236,1629.0 L231,1655.0 M227,1655.0 L250,1655.0 L250,1662.0 M227,1655.0 L227,1662.0" stroke-width="4" fill="none"/>
<circle cx="239" cy="1703" r="25" fill="none" stroke-width="3.5"/>
<text x="229.5" y="1718.0" font-family="Liberation Sans" font-size="43.6" font-weight="normal" textLength="19.0" lengthAdjust="spacingAndGlyphs" stroke="#000" stroke-width="1.5" fill="#000" >Г</text>
<circle cx="239" cy="2156" r="25" fill="none" stroke-width="3.5"/>
<text x="229.5" y="2171.0" font-family="Liberation Sans" font-size="43.6" font-weight="normal" textLength="19.0" lengthAdjust="spacingAndGlyphs" stroke="#000" stroke-width="1.5" fill="#000" >А</text>
<line x1="265" y1="1648" x2="292" y2="1671" stroke-width="3"/>
<line x1="263" y1="1698" x2="291" y2="1673" stroke-width="3"/>
<g transform="translate(282,1622) rotate(-90)"><text x="-30.0" y="9.0" font-family="Liberation Sans" font-size="26.2" font-weight="bold" textLength="60" lengthAdjust="spacingAndGlyphs" stroke="none" fill="#000">3830</text></g>
<g transform="translate(307,1699) rotate(-90)"><text x="-18.0" y="8.0" font-family="Liberation Sans" font-size="23.3" font-weight="bold" textLength="36" lengthAdjust="spacingAndGlyphs" stroke="none" fill="#000">300</text></g>
<g transform="translate(281,1912) rotate(-90)"><text x="-46.0" y="11.0" font-family="Liberation Sans" font-size="32.0" font-weight="normal" textLength="92" lengthAdjust="spacingAndGlyphs" stroke="none" fill="#000">24300</text></g>
<line x1="362" y1="2163" x2="362" y2="2215" stroke-width="3"/>
<line x1="362" y1="2225" x2="362" y2="2235" stroke-width="3"/>
<line x1="362" y1="2245" x2="362" y2="2301" stroke-width="3"/>
<line x1="2042" y1="2169" x2="2042" y2="2215" stroke-width="3"/>
<line x1="2042" y1="2225" x2="2042" y2="2235" stroke-width="3"/>
<line x1="2042" y1="2245" x2="2042" y2="2301" stroke-width="3"/>
<line x1="362" y1="2270" x2="2042" y2="2270" stroke-width="3"/>
<line x1="354" y1="2278" x2="370" y2="2262" stroke-width="3"/>
<line x1="2034" y1="2278" x2="2050" y2="2262" stroke-width="3"/>
<circle cx="364.5" cy="2327" r="26" fill="none" stroke-width="3.5"/>
<text x="359.5" y="2342.0" font-family="Liberation Sans" font-size="43.6" font-weight="normal" textLength="10.0" lengthAdjust="spacingAndGlyphs" stroke="#000" stroke-width="1.5" fill="#000" >1</text>
<circle cx="2041.5" cy="2328" r="27" fill="none" stroke-width="3.5"/>
<text x="2026.5" y="2342.0" font-family="Liberation Sans" font-size="40.7" font-weight="normal" textLength="30.0" lengthAdjust="spacingAndGlyphs" stroke="#000" stroke-width="1.5" fill="#000" >15</text>
<text x="1101" y="2262" font-family="Liberation Sans" font-size="33.4" font-weight="normal" textLength="104.0" lengthAdjust="spacingAndGlyphs" stroke="#000" stroke-width="0.8" fill="#000" >84000</text>
<line x1="1031" y1="1505" x2="1031" y2="1554" stroke-width="4"/>
<line x1="1031" y1="1525" x2="1100" y2="1525" stroke-width="3"/>
<path d="M1036,1525 L1060,1516 M1036,1525 L1060,1534" stroke-width="3"/>
<text x="1074" y="1518" font-family="Liberation Sans" font-size="26.2" font-weight="bold" textLength="10.0" lengthAdjust="spacingAndGlyphs" stroke="none" fill="#000" >1</text>
<line x1="1029" y1="2307" x2="1029" y2="2358" stroke-width="4"/>
<line x1="1029" y1="2339" x2="1099" y2="2339" stroke-width="3"/>
<path d="M1034,2339 L1058,2330 M1034,2339 L1058,2348" stroke-width="3"/>
<text x="1071" y="2376" font-family="Liberation Sans" font-size="45.1" font-weight="bold" textLength="10.0" lengthAdjust="spacingAndGlyphs" stroke="none" fill="#000" >1</text>
<polyline points="726,1672 726,1572 2048,1572 2048,1672" fill="none" stroke-width="5"/>
<rect x="732" y="1579" width="10" height="10" fill="none" stroke-width="3" rx="3"/>
<rect x="837" y="1579" width="10" height="10" fill="none" stroke-width="3" rx="3"/>
<rect x="960" y="1579" width="10" height="10" fill="none" stroke-width="3" rx="3"/>
<rect x="1078" y="1579" width="10" height="10" fill="none" stroke-width="3" rx="3"/>
<rect x="1184" y="1579" width="10" height="10" fill="none" stroke-width="3" rx="3"/>
<rect x="1207" y="1579" width="10" height="10" fill="none" stroke-width="3" rx="3"/>
<rect x="1318" y="1579" width="10" height="10" fill="none" stroke-width="3" rx="3"/>
<rect x="1436" y="1579" width="10" height="10" fill="none" stroke-width="3" rx="3"/>
<rect x="1557.5" y="1579" width="10" height="10" fill="none" stroke-width="3" rx="3"/>
<rect x="1678.5" y="1579" width="10" height="10" fill="none" stroke-width="3" rx="3"/>
<rect x="1800" y="1579" width="10" height="10" fill="none" stroke-width="3" rx="3"/>
<rect x="1917" y="1579" width="10" height="10" fill="none" stroke-width="3" rx="3"/>
<rect x="2024" y="1579" width="10" height="10" fill="none" stroke-width="3" rx="3"/>
<polyline points="488,1672 488,1622 726,1622" fill="none" stroke-width="4"/>
<line x1="517" y1="1650" x2="686" y2="1650" stroke-width="4"/>
<path d="M517,1650 L545,1644 L545,1656 Z" fill="#000" stroke="none"/>
<rect x="681" y="1601" width="45" height="18" fill="#000" stroke="none" rx="0"/>
<rect x="685" y="1604" width="2" height="12" fill="#fff" stroke="none" rx="0"/>
<rect x="690" y="1604" width="2" height="12" fill="#fff" stroke="none" rx="0"/>
<rect x="695" y="1604" width="2" height="12" fill="#fff" stroke="none" rx="0"/>
<rect x="700" y="1604" width="2" height="12" fill="#fff" stroke="none" rx="0"/>
<rect x="705" y="1604" width="2" height="12" fill="#fff" stroke="none" rx="0"/>
<rect x="710" y="1604" width="2" height="12" fill="#fff" stroke="none" rx="0"/>
<rect x="715" y="1604" width="2" height="12" fill="#fff" stroke="none" rx="0"/>
<rect x="720" y="1604" width="2" height="12" fill="#fff" stroke="none" rx="0"/>
<rect x="1319" y="1609" width="94" height="27" fill="none" stroke-width="3" rx="0"/>
<text x="1326" y="1633" font-family="Liberation Sans" font-size="30.5" font-weight="normal" textLength="81.0" lengthAdjust="spacingAndGlyphs" stroke="#000" stroke-width="0.8" fill="#000" >1,180</text>
<rect x="2049" y="1590" width="17" height="63" fill="#000" stroke="none" rx="0"/>
<rect x="2050" y="1598" width="13" height="20" fill="#fff" stroke="none" rx="3"/>
<rect x="2050" y="1624" width="4" height="3" fill="#fff" stroke="none" rx="0"/>
<rect x="2058" y="1624" width="4" height="3" fill="#fff" stroke="none" rx="0"/>
<rect x="2050" y="1632" width="4" height="3" fill="#fff" stroke="none" rx="0"/>
<rect x="2058" y="1632" width="4" height="3" fill="#fff" stroke="none" rx="0"/>
<rect x="2050" y="1640" width="4" height="3" fill="#fff" stroke="none" rx="0"/>
<rect x="2058" y="1640" width="4" height="3" fill="#fff" stroke="none" rx="0"/>
<line x1="2071" y1="1592" x2="2071" y2="1650" stroke-width="3"/>
<line x1="2062" y1="1592" x2="2071" y2="1592" stroke-width="3"/>
<text x="1018" y="1627" font-family="Liberation Sans" font-size="36.3" font-weight="bold" textLength="14.0" lengthAdjust="spacingAndGlyphs" stroke="none" fill="#000" >6</text>
<line x1="1010" y1="1630" x2="1045" y2="1630" stroke-width="3"/>
<line x1="1045" y1="1630" x2="1065" y2="1645" stroke-width="3"/>
<rect x="1063" y="1638" width="25" height="18" fill="none" stroke-width="4" rx="3"/>
<rect x="1092" y="1638" width="18" height="18" fill="none" stroke-width="4" rx="3"/>
<line x1="1110" y1="1640" x2="1120" y2="1647" stroke-width="3"/>
<line x1="1110" y1="1655" x2="1120" y2="1647" stroke-width="3"/>
<rect x="356" y="1666.5" width="414" height="13" fill="#000" stroke="none" rx="6.5"/>
<rect x="361" y="1670.0" width="404" height="6" fill="#fff" stroke="none" rx="2"/>
<line x1="366" y1="1676.5" x2="375" y2="1669.5" stroke-width="4"/>
<line x1="392" y1="1676.5" x2="401" y2="1669.5" stroke-width="4"/>
<line x1="418" y1="1676.5" x2="427" y2="1669.5" stroke-width="4"/>
<line x1="444" y1="1676.5" x2="453" y2="1669.5" stroke-width="4"/>
<line x1="470" y1="1676.5" x2="479" y2="1669.5" stroke-width="4"/>
<line x1="496" y1="1676.5" x2="505" y2="1669.5" stroke-width="4"/>
<line x1="522" y1="1676.5" x2="531" y2="1669.5" stroke-width="4"/>
<line x1="548" y1="1676.5" x2="557" y2="1669.5" stroke-width="4"/>
<line x1="574" y1="1676.5" x2="583" y2="1669.5" stroke-width="4"/>
<line x1="600" y1="1676.5" x2="609" y2="1669.5" stroke-width="4"/>
<line x1="626" y1="1676.5" x2="635" y2="1669.5" stroke-width="4"/>
<line x1="652" y1="1676.5" x2="661" y2="1669.5" stroke-width="4"/>
<line x1="678" y1="1676.5" x2="687" y2="1669.5" stroke-width="4"/>
<line x1="704" y1="1676.5" x2="713" y2="1669.5" stroke-width="4"/>
<line x1="730" y1="1676.5" x2="739" y2="1669.5" stroke-width="4"/>
<rect x="807" y="1666.5" width="170" height="13" fill="#000" stroke="none" rx="6.5"/>
<rect x="812" y="1670.0" width="160" height="6" fill="#fff" stroke="none" rx="2"/>
<line x1="817" y1="1676.5" x2="826" y2="1669.5" stroke-width="4"/>
<line x1="843" y1="1676.5" x2="852" y2="1669.5" stroke-width="4"/>
<line x1="869" y1="1676.5" x2="878" y2="1669.5" stroke-width="4"/>
<line x1="895" y1="1676.5" x2="904" y2="1669.5" stroke-width="4"/>
<line x1="921" y1="1676.5" x2="930" y2="1669.5" stroke-width="4"/>
<line x1="947" y1="1676.5" x2="956" y2="1669.5" stroke-width="4"/>
<rect x="1010" y="1666.5" width="112" height="13" fill="#000" stroke="none" rx="6.5"/>
<rect x="1015" y="1670.0" width="102" height="6" fill="#fff" stroke="none" rx="2"/>
<line x1="1020" y1="1676.5" x2="1029" y2="1669.5" stroke-width="4"/>
<line x1="1046" y1="1676.5" x2="1055" y2="1669.5" stroke-width="4"/>
<line x1="1072" y1="1676.5" x2="1081" y2="1669.5" stroke-width="4"/>
<rect x="1163" y="1666.5" width="199" height="13" fill="#000" stroke="none" rx="6.5"/>
<rect x="1168" y="1670.0" width="189" height="6" fill="#fff" stroke="none" rx="2"/>
<line x1="1173" y1="1676.5" x2="1182" y2="1669.5" stroke-width="4"/>
<line x1="1199" y1="1676.5" x2="1208" y2="1669.5" stroke-width="4"/>
<line x1="1225" y1="1676.5" x2="1234" y2="1669.5" stroke-width="4"/>
<line x1="1251" y1="1676.5" x2="1260" y2="1669.5" stroke-width="4"/>
<line x1="1277" y1="1676.5" x2="1286" y2="1669.5" stroke-width="4"/>
<line x1="1303" y1="1676.5" x2="1312" y2="1669.5" stroke-width="4"/>
<line x1="1329" y1="1676.5" x2="1338" y2="1669.5" stroke-width="4"/>
<rect x="1401" y="1666.5" width="202" height="13" fill="#000" stroke="none" rx="6.5"/>
<rect x="1406" y="1670.0" width="192" height="6" fill="#fff" stroke="none" rx="2"/>
<line x1="1411" y1="1676.5" x2="1420" y2="1669.5" stroke-width="4"/>
<line x1="1437" y1="1676.5" x2="1446" y2="1669.5" stroke-width="4"/>
<line x1="1463" y1="1676.5" x2="1472" y2="1669.5" stroke-width="4"/>
<line x1="1489" y1="1676.5" x2="1498" y2="1669.5" stroke-width="4"/>
<line x1="1515" y1="1676.5" x2="1524" y2="1669.5" stroke-width="4"/>
<line x1="1541" y1="1676.5" x2="1550" y2="1669.5" stroke-width="4"/>
<line x1="1567" y1="1676.5" x2="1576" y2="1669.5" stroke-width="4"/>
<rect x="1641" y="1666.5" width="322" height="13" fill="#000" stroke="none" rx="6.5"/>
<rect x="1646" y="1670.0" width="312" height="6" fill="#fff" stroke="none" rx="2"/>
<line x1="1651" y1="1676.5" x2="1660" y2="1669.5" stroke-width="4"/>
<line x1="1677" y1="1676.5" x2="1686" y2="1669.5" stroke-width="4"/>
<line x1="1703" y1="1676.5" x2="1712" y2="1669.5" stroke-width="4"/>
<line x1="1729" y1="1676.5" x2="1738" y2="1669.5" stroke-width="4"/>
<line x1="1755" y1="1676.5" x2="1764" y2="1669.5" stroke-width="4"/>
<line x1="1781" y1="1676.5" x2="1790" y2="1669.5" stroke-width="4"/>
<line x1="1807" y1="1676.5" x2="1816" y2="1669.5" stroke-width="4"/>
<line x1="1833" y1="1676.5" x2="1842" y2="1669.5" stroke-width="4"/>
<line x1="1859" y1="1676.5" x2="1868" y2="1669.5" stroke-width="4"/>
<line x1="1885" y1="1676.5" x2="1894" y2="1669.5" stroke-width="4"/>
<line x1="1911" y1="1676.5" x2="1920" y2="1669.5" stroke-width="4"/>
<rect x="2002" y="1666.5" width="44" height="13" fill="#000" stroke="none" rx="6.5"/>
<rect x="2007" y="1670.0" width="34" height="6" fill="#fff" stroke="none" rx="2"/>
<line x1="2012" y1="1676.5" x2="2021" y2="1669.5" stroke-width="4"/>
<circle cx="374" cy="1681" r="5" fill="#fff" stroke-width="3"/>
<circle cx="488" cy="1681" r="5" fill="#fff" stroke-width="3"/>
<circle cx="603.5" cy="1681" r="5" fill="#fff" stroke-width="3"/>
<circle cx="726" cy="1681" r="5" fill="#fff" stroke-width="3"/>
<circle cx="843.5" cy="1681" r="5" fill="#fff" stroke-width="3"/>
<circle cx="964.6" cy="1681" r="5" fill="#fff" stroke-width="3"/>
<circle cx="1083" cy="1681" r="5" fill="#fff" stroke-width="3"/>
<circle cx="1210" cy="1681" r="5" fill="#fff" stroke-width="3"/>
<circle cx="1322.8" cy="1681" r="5" fill="#fff" stroke-width="3"/>
<circle cx="1441.4" cy="1681" r="5" fill="#fff" stroke-width="3"/>
<circle cx="1562.5" cy="1681" r="5" fill="#fff" stroke-width="3"/>
<circle cx="1683.5" cy="1681" r="5" fill="#fff" stroke-width="3"/>
<circle cx="1803" cy="1681" r="5" fill="#fff" stroke-width="3"/>
<circle cx="1922" cy="1681" r="5" fill="#fff" stroke-width="3"/>
<circle cx="2029" cy="1681" r="5" fill="#fff" stroke-width="3"/>
<rect x="356" y="1672" width="11" height="72" fill="#000" stroke="none" rx="0"/>
<rect x="360" y="1682" width="3" height="55" fill="#fff" stroke="none" rx="0"/>
<rect x="356" y="1786" width="11" height="82" fill="#000" stroke="none" rx="0"/>
<line x1="489" y1="1676" x2="489" y2="1864" stroke-width="5"/>
<line x1="361" y1="1794" x2="489" y2="1794" stroke-width="6"/>
<text x="417" y="1727" font-family="Liberation Sans" font-size="42.2" font-weight="bold" textLength="11.0" lengthAdjust="spacingAndGlyphs" stroke="none" fill="#000" >1</text>
<rect x="393" y="1756" width="66" height="22" fill="none" stroke-width="6" rx="4"/>
<text x="398" y="1776" font-family="Liberation Sans" font-size="24.7" font-weight="bold" textLength="57.0" lengthAdjust="spacingAndGlyphs" stroke="#000" stroke-width="1.2" fill="#000" >0,000</text>
<rect x="638" y="1740" width="81" height="31" fill="none" stroke-width="4" rx="0"/>
<text x="644" y="1767" font-family="Liberation Sans" font-size="32.0" font-weight="normal" textLength="70.0" lengthAdjust="spacingAndGlyphs" stroke="#000" stroke-width="0.8" fill="#000" >1,200</text>
<text x="653.0" y="1831.0" font-family="Liberation Sans" font-size="37.8" font-weight="bold" textLength="16.0" lengthAdjust="spacingAndGlyphs" stroke="none" fill="#000" >3</text>
<text x="429.5" y="1861.0" font-family="Liberation Sans" font-size="34.9" font-weight="bold" textLength="15.0" lengthAdjust="spacingAndGlyphs" stroke="none" fill="#000" >2</text>
<path d="M387,1808 L398,1808 L398,1818 L390,1818 Z M396,1818 L406,1822 L404,1840 L396,1840 L393,1826 M404,1830 L420,1842 M443,1806 L454,1806 L454,1816 L446,1816 Z M452,1816 L462,1820 L460,1840 L452,1840 L449,1824 M460,1830 L476,1842" stroke-width="3.5" fill="none"/>
<rect x="647" y="1690" width="20" height="14" fill="none" stroke-width="4" rx="3"/>
<line x1="667" y1="1697" x2="678" y2="1710" stroke-width="3"/>
<line x1="678" y1="1715" x2="708" y2="1715" stroke-width="3"/>
<text x="682" y="1713" font-family="Liberation Sans" font-size="29.1" font-weight="bold" textLength="11.0" lengthAdjust="spacingAndGlyphs" stroke="none" fill="#000" >8</text>
<polyline points="356,1836 333,1836 333,1905 356,1905" fill="none" stroke-width="4"/>
<text x="305" y="1862" font-family="Liberation Sans" font-size="37.8" font-weight="bold" textLength="20.0" lengthAdjust="spacingAndGlyphs" stroke="none" fill="#000" >В2</text>
<line x1="300" y1="1870" x2="350" y2="1870" stroke-width="3"/>
<path d="M300,1870 L312,1864 L312,1876 Z" fill="#000"/>
<line x1="901" y1="1679" x2="901" y2="1733" stroke-width="5"/>
<line x1="842" y1="1737" x2="863" y2="1737" stroke-width="6"/>
<line x1="880" y1="1737" x2="926" y2="1737" stroke-width="6"/>
<line x1="945" y1="1737" x2="965" y2="1737" stroke-width="6"/>
<line x1="844" y1="1728" x2="844" y2="1760" stroke-width="5"/>
<line x1="844" y1="1779" x2="844" y2="1862" stroke-width="5"/>
<line x1="844" y1="1800" x2="965" y2="1800" stroke-width="6"/>
<line x1="965" y1="1737" x2="965" y2="1862" stroke-width="5"/>
<line x1="859" y1="1679" x2="859" y2="1700" stroke-width="5"/>
<line x1="965" y1="1679" x2="965" y2="1700" stroke-width="5"/>
<rect x="912" y="1702" width="10" height="17" fill="none" stroke-width="3" rx="0"/>
<text x="861.5" y="1715.0" font-family="Liberation Sans" font-size="32.0" font-weight="bold" textLength="13.0" lengthAdjust="spacingAndGlyphs" stroke="none" fill="#000" >4</text>
<text x="926.5" y="1702.0" font-family="Liberation Sans" font-size="32.0" font-weight="bold" textLength="13.0" lengthAdjust="spacingAndGlyphs" stroke="none" fill="#000" >5</text>
<text x="936.5" y="1729.0" font-family="Liberation Sans" font-size="29.1" font-weight="bold" textLength="13.0" lengthAdjust="spacingAndGlyphs" stroke="none" fill="#000" >4</text>
<text x="899.0" y="1783.0" font-family="Liberation Sans" font-size="37.8" font-weight="bold" textLength="16.0" lengthAdjust="spacingAndGlyphs" stroke="none" fill="#000" >6</text>
<text x="897.0" y="1845.0" font-family="Liberation Sans" font-size="37.8" font-weight="bold" textLength="16.0" lengthAdjust="spacingAndGlyphs" stroke="none" fill="#000" >7</text>
<rect x="970" y="1735" width="40" height="14" fill="none" stroke-width="3" rx="3"/>
<line x1="972" y1="1742" x2="1008" y2="1742" stroke-width="2"/>
<rect x="1033" y="1735" width="42" height="14" fill="none" stroke-width="3" rx="3"/>
<line x1="1035" y1="1742" x2="1073" y2="1742" stroke-width="2"/>
<rect x="970" y="1769" width="40" height="14" fill="none" stroke-width="3" rx="3"/>
<line x1="972" y1="1776" x2="1008" y2="1776" stroke-width="2"/>
<rect x="1033" y="1769" width="42" height="14" fill="none" stroke-width="3" rx="3"/>
<line x1="1035" y1="1776" x2="1073" y2="1776" stroke-width="2"/>
<rect x="970" y="1803" width="40" height="14" fill="none" stroke-width="3" rx="3"/>
<line x1="972" y1="1810" x2="1008" y2="1810" stroke-width="2"/>
<rect x="1033" y="1803" width="42" height="14" fill="none" stroke-width="3" rx="3"/>
<line x1="1035" y1="1810" x2="1073" y2="1810" stroke-width="2"/>
<rect x="970" y="1839" width="40" height="14" fill="none" stroke-width="3" rx="3"/>
<line x1="972" y1="1846" x2="1008" y2="1846" stroke-width="2"/>
<rect x="1033" y="1839" width="42" height="14" fill="none" stroke-width="3" rx="3"/>
<line x1="1035" y1="1846" x2="1073" y2="1846" stroke-width="2"/>
<text x="1012.5" y="1772.0" font-family="Liberation Sans" font-size="32.0" font-weight="bold" textLength="13.0" lengthAdjust="spacingAndGlyphs" stroke="none" fill="#000" >8</text>
<text x="972" y="1722" font-family="Liberation Sans" font-size="32.0" font-weight="bold" textLength="14.0" lengthAdjust="spacingAndGlyphs" stroke="none" fill="#000" >3</text>
<line x1="978" y1="1728" x2="995" y2="1728" stroke-width="3"/>
<line x1="978" y1="1728" x2="970" y2="1742" stroke-width="3"/>
<text x="1042" y="1728" font-family="Liberation Sans" font-size="32.0" font-weight="bold" textLength="14.0" lengthAdjust="spacingAndGlyphs" stroke="none" fill="#000" >3</text>
<line x1="1030" y1="1728" x2="1058" y2="1728" stroke-width="3"/>
<line x1="1058" y1="1728" x2="1070" y2="1740" stroke-width="3"/>
<line x1="1083" y1="1679" x2="1083" y2="1862" stroke-width="5"/>
<rect x="1089" y="1695" width="11" height="159" fill="none" stroke-width="3" rx="0"/>
<line x1="1089" y1="1735" x2="1100" y2="1735" stroke-width="2"/>
<line x1="1089" y1="1775" x2="1100" y2="1775" stroke-width="2"/>
<line x1="1089" y1="1815" x2="1100" y2="1815" stroke-width="2"/>
<text x="1101" y="1840" font-family="Liberation Sans" font-size="32.0" font-weight="bold" textLength="14.0" lengthAdjust="spacingAndGlyphs" stroke="none" fill="#000" >3</text>
<line x1="1100" y1="1842" x2="1120" y2="1842" stroke-width="3"/>
<text x="1134.0" y="1776.0" font-family="Liberation Sans" font-size="37.8" font-weight="bold" textLength="16.0" lengthAdjust="spacingAndGlyphs" stroke="none" fill="#000" >9</text>
<line x1="1210" y1="1679" x2="1210" y2="1866" stroke-width="5"/>
<rect x="1196" y="1697" width="9" height="38" fill="none" stroke-width="3" rx="0"/>
<text x="1157" y="1735" font-family="Liberation Sans" font-size="33.4" font-weight="bold" textLength="14.0" lengthAdjust="spacingAndGlyphs" stroke="none" fill="#000" >3</text>
<line x1="1150" y1="1738" x2="1190" y2="1738" stroke-width="3"/>
<rect x="1186" y="1819" width="19" height="35" fill="none" stroke-width="3" rx="0"/>
<text x="1158" y="1844" font-family="Liberation Sans" font-size="33.4" font-weight="bold" textLength="14.0" lengthAdjust="spacingAndGlyphs" stroke="none" fill="#000" >4</text>
<line x1="1150" y1="1846" x2="1186" y2="1846" stroke-width="3"/>
<text x="1297.0" y="1769.0" font-family="Liberation Sans" font-size="37.8" font-weight="bold" textLength="32.0" lengthAdjust="spacingAndGlyphs" stroke="none" fill="#000" >10</text>
<rect x="1218" y="1689" width="120" height="10" fill="none" stroke-width="3" rx="0"/>
<line x1="1318" y1="1695" x2="1318" y2="1689" stroke-width="2"/>
<text x="1345" y="1722" font-family="Liberation Sans" font-size="32.0" font-weight="bold" textLength="14.0" lengthAdjust="spacingAndGlyphs" stroke="none" fill="#000" >3</text>
<line x1="1320" y1="1700" x2="1338" y2="1718" stroke-width="3"/>
<line x1="1338" y1="1718" x2="1370" y2="1718" stroke-width="3"/>
<line x1="1441" y1="1677" x2="1441" y2="1862" stroke-width="5"/>
<line x1="1803" y1="1677" x2="1803" y2="1862" stroke-width="6"/>
<rect x="1424" y="1696" width="12" height="160" fill="none" stroke-width="3" rx="0"/>
<line x1="1424" y1="1736" x2="1436" y2="1736" stroke-width="2"/>
<line x1="1424" y1="1776" x2="1436" y2="1776" stroke-width="2"/>
<line x1="1424" y1="1816" x2="1436" y2="1816" stroke-width="2"/>
<text x="1396" y="1723" font-family="Liberation Sans" font-size="32.0" font-weight="bold" textLength="14.0" lengthAdjust="spacingAndGlyphs" stroke="none" fill="#000" >3</text>
<line x1="1390" y1="1725" x2="1420" y2="1725" stroke-width="3"/>
<rect x="1480" y="1689" width="102" height="34" fill="none" stroke-width="4" rx="3"/>
<rect x="1449" y="1695" width="19" height="20" fill="none" stroke-width="4" rx="3"/>
<rect x="1662" y="1689" width="102" height="34" fill="none" stroke-width="4" rx="3"/>
<rect x="1771" y="1695" width="23" height="20" fill="none" stroke-width="4" rx="3"/>
<rect x="1480" y="1754" width="102" height="34" fill="none" stroke-width="4" rx="3"/>
<rect x="1449" y="1760" width="19" height="20" fill="none" stroke-width="4" rx="3"/>
<rect x="1662" y="1754" width="102" height="34" fill="none" stroke-width="4" rx="3"/>
<rect x="1771" y="1760" width="23" height="20" fill="none" stroke-width="4" rx="3"/>
<rect x="1480" y="1817" width="102" height="34" fill="none" stroke-width="4" rx="3"/>
<rect x="1449" y="1823" width="19" height="20" fill="none" stroke-width="4" rx="3"/>
<rect x="1662" y="1817" width="102" height="34" fill="none" stroke-width="4" rx="3"/>
<rect x="1771" y="1823" width="23" height="20" fill="none" stroke-width="4" rx="3"/>
<text x="1588.0" y="1777.0" font-family="Liberation Sans" font-size="32.0" font-weight="bold" textLength="22.0" lengthAdjust="spacingAndGlyphs" stroke="none" fill="#000" >11</text>
<text x="1624" y="1719" font-family="Liberation Sans" font-size="32.0" font-weight="bold" textLength="16.0" lengthAdjust="spacingAndGlyphs" stroke="none" fill="#000" >5</text>
<line x1="1614" y1="1722" x2="1658" y2="1722" stroke-width="3"/>
<line x1="1658" y1="1722" x2="1675" y2="1705" stroke-width="3"/>
<text x="1637" y="1797" font-family="Liberation Sans" font-size="33.4" font-weight="bold" textLength="14.0" lengthAdjust="spacingAndGlyphs" stroke="none" fill="#000" >9</text>
<line x1="1635" y1="1800" x2="1662" y2="1800" stroke-width="3"/>
<line x1="1635" y1="1800" x2="1622" y2="1810" stroke-width="3"/>
<rect x="1612" y="1808" width="18" height="18" fill="none" stroke-width="4" rx="3"/>
<line x1="1803" y1="1677" x2="1803" y2="1862" stroke-width="7"/>
<rect x="2037.5" y="1675" width="12" height="201" fill="#000" stroke="none" rx="6.0"/>
<rect x="2040.5" y="1680" width="6" height="191" fill="#fff" stroke="none" rx="2"/>
<line x1="2040.5" y1="1694" x2="2046.5" y2="1685" stroke-width="4"/>
<line x1="2040.5" y1="1718" x2="2046.5" y2="1709" stroke-width="4"/>
<line x1="2040.5" y1="1742" x2="2046.5" y2="1733" stroke-width="4"/>
<line x1="2040.5" y1="1766" x2="2046.5" y2="1757" stroke-width="4"/>
<line x1="2040.5" y1="1790" x2="2046.5" y2="1781" stroke-width="4"/>
<line x1="2040.5" y1="1814" x2="2046.5" y2="1805" stroke-width="4"/>
<line x1="2040.5" y1="1838" x2="2046.5" y2="1829" stroke-width="4"/>
<rect x="1809" y="1745.5" width="118" height="11" fill="none" stroke-width="3" rx="4"/>
<line x1="1848" y1="1745.5" x2="1848" y2="1756.5" stroke-width="2"/>
<line x1="1887" y1="1745.5" x2="1887" y2="1756.5" stroke-width="2"/>
<rect x="1809" y="1785.5" width="118" height="19" fill="none" stroke-width="3" rx="4"/>
<line x1="1848" y1="1785.5" x2="1848" y2="1804.5" stroke-width="2"/>
<line x1="1887" y1="1785.5" x2="1887" y2="1804.5" stroke-width="2"/>
<rect x="1809" y="1837.5" width="118" height="11" fill="none" stroke-width="3" rx="4"/>
<line x1="1848" y1="1837.5" x2="1848" y2="1848.5" stroke-width="2"/>
<line x1="1887" y1="1837.5" x2="1887" y2="1848.5" stroke-width="2"/>
<rect x="1995" y="1689.5" width="40" height="11" fill="none" stroke-width="3" rx="4"/>
<rect x="1995" y="1735.5" width="40" height="17" fill="none" stroke-width="3" rx="4"/>
<rect x="1995" y="1784.0" width="40" height="20" fill="none" stroke-width="3" rx="4"/>
<rect x="1995" y="1837.5" width="40" height="11" fill="none" stroke-width="3" rx="4"/>
<text x="1944.0" y="1785.0" font-family="Liberation Sans" font-size="34.9" font-weight="bold" textLength="26.0" lengthAdjust="spacingAndGlyphs" stroke="none" fill="#000" >12</text>
<text x="1847" y="1732" font-family="Liberation Sans" font-size="33.4" font-weight="bold" textLength="14.0" lengthAdjust="spacingAndGlyphs" stroke="none" fill="#000" >3</text>
<line x1="1843" y1="1736" x2="1878" y2="1736" stroke-width="3"/>
<line x1="1878" y1="1736" x2="1890" y2="1745" stroke-width="3"/>
<text x="1972" y="1719" font-family="Liberation Sans" font-size="33.4" font-weight="bold" textLength="14.0" lengthAdjust="spacingAndGlyphs" stroke="none" fill="#000" >3</text>
<line x1="1972" y1="1720" x2="1996" y2="1720" stroke-width="3"/>
<line x1="1996" y1="1720" x2="2010" y2="1700" stroke-width="3"/>
<rect x="2050" y="1808" width="24" height="60" fill="#000" stroke="none" rx="0"/>
<rect x="2053.0" y="1809.5" width="6.0" height="4.5" fill="#fff" stroke="none" rx="2"/>
<rect x="2053.0" y="1817.0" width="6.0" height="4.5" fill="#fff" stroke="none" rx="2"/>
<rect x="2053.0" y="1824.5" width="6.0" height="4.5" fill="#fff" stroke="none" rx="2"/>
<rect x="2053.0" y="1832.0" width="6.0" height="4.5" fill="#fff" stroke="none" rx="2"/>
<rect x="2053.0" y="1839.5" width="6.0" height="4.5" fill="#fff" stroke="none" rx="2"/>
<rect x="2053.0" y="1847.0" width="6.0" height="4.5" fill="#fff" stroke="none" rx="2"/>
<rect x="2053.0" y="1854.5" width="6.0" height="4.5" fill="#fff" stroke="none" rx="2"/>
<rect x="2053.0" y="1862.0" width="6.0" height="4.5" fill="#fff" stroke="none" rx="2"/>
<rect x="2065.0" y="1809.5" width="6.0" height="4.5" fill="#fff" stroke="none" rx="2"/>
<rect x="2065.0" y="1817.0" width="6.0" height="4.5" fill="#fff" stroke="none" rx="2"/>
<rect x="2065.0" y="1824.5" width="6.0" height="4.5" fill="#fff" stroke="none" rx="2"/>
<rect x="2065.0" y="1832.0" width="6.0" height="4.5" fill="#fff" stroke="none" rx="2"/>
<rect x="2065.0" y="1839.5" width="6.0" height="4.5" fill="#fff" stroke="none" rx="2"/>
<rect x="2065.0" y="1847.0" width="6.0" height="4.5" fill="#fff" stroke="none" rx="2"/>
<rect x="2065.0" y="1854.5" width="6.0" height="4.5" fill="#fff" stroke="none" rx="2"/>
<rect x="2065.0" y="1862.0" width="6.0" height="4.5" fill="#fff" stroke="none" rx="2"/>
<line x1="2075" y1="1808" x2="2075" y2="1870" stroke-width="4"/>
<text x="2015" y="1895" font-family="Liberation Sans" font-size="33.4" font-weight="bold" textLength="18.0" lengthAdjust="spacingAndGlyphs" stroke="none" fill="#000" >14</text>
<line x1="356" y1="1865" x2="809" y2="1865" stroke-width="8"/>
<line x1="828" y1="1865" x2="929" y2="1865" stroke-width="8"/>
<line x1="945" y1="1865" x2="1017" y2="1865" stroke-width="8"/>
<line x1="1024" y1="1865" x2="1142" y2="1865" stroke-width="8"/>
<line x1="1156" y1="1865" x2="1382" y2="1865" stroke-width="8"/>
<line x1="1392" y1="1865" x2="1617" y2="1865" stroke-width="8"/>
<line x1="1627" y1="1865" x2="1976" y2="1865" stroke-width="8"/>
<line x1="1986" y1="1865" x2="2039" y2="1865" stroke-width="8"/>
<line x1="1017" y1="1856" x2="1017" y2="1874" stroke-width="4"/>
<line x1="1024" y1="1856" x2="1024" y2="1874" stroke-width="4"/>
<line x1="1142" y1="1856" x2="1142" y2="1874" stroke-width="4"/>
<line x1="1156" y1="1856" x2="1156" y2="1874" stroke-width="4"/>
<line x1="1382" y1="1856" x2="1382" y2="1874" stroke-width="4"/>
<line x1="1392" y1="1856" x2="1392" y2="1874" stroke-width="4"/>
<line x1="1617" y1="1856" x2="1617" y2="1874" stroke-width="4"/>
<line x1="1627" y1="1856" x2="1627" y2="1874" stroke-width="4"/>
<line x1="1976" y1="1856" x2="1976" y2="1874" stroke-width="4"/>
<line x1="1986" y1="1856" x2="1986" y2="1874" stroke-width="4"/>
<rect x="1063" y="1872" width="86" height="21" fill="none" stroke-width="3" rx="0"/>
<text x="1070" y="1891" font-family="Liberation Sans" font-size="24.7" font-weight="normal" textLength="73.0" lengthAdjust="spacingAndGlyphs" stroke="#000" stroke-width="0.8" fill="#000" >1,200</text>
<text x="1350" y="1891" font-family="Liberation Sans" font-size="33.4" font-weight="bold" textLength="22.0" lengthAdjust="spacingAndGlyphs" stroke="none" fill="#000" >13</text>
<rect x="770" y="1866" width="38" height="50" fill="#000" stroke="none" rx="0"/>
<rect x="773" y="1869" width="2" height="45" fill="#fff" stroke="none" rx="0"/>
<rect x="778" y="1869" width="2" height="45" fill="#fff" stroke="none" rx="0"/>
<rect x="783" y="1869" width="2" height="45" fill="#fff" stroke="none" rx="0"/>
<rect x="788" y="1869" width="2" height="45" fill="#fff" stroke="none" rx="0"/>
<rect x="793" y="1869" width="2" height="45" fill="#fff" stroke="none" rx="0"/>
<rect x="798" y="1869" width="2" height="45" fill="#fff" stroke="none" rx="0"/>
<rect x="803" y="1869" width="2" height="45" fill="#fff" stroke="none" rx="0"/>
<rect x="355" y="1867" width="4" height="296" fill="#000" stroke="none" rx="0"/>
<rect x="363" y="1867" width="4" height="296" fill="#000" stroke="none" rx="0"/>
<rect x="355" y="1880" width="12" height="20" fill="#000" stroke="none" rx="0"/>
<rect x="355" y="1955" width="12" height="14" fill="#000" stroke="none" rx="0"/>
<rect x="355" y="2025" width="12" height="14" fill="#000" stroke="none" rx="0"/>
<rect x="355" y="2095" width="12" height="14" fill="#000" stroke="none" rx="0"/>
<text x="372" y="1895" font-family="Liberation Sans" font-size="32.0" font-weight="bold" textLength="18.0" lengthAdjust="spacingAndGlyphs" stroke="none" fill="#000" >14</text>
<line x1="383" y1="1867" x2="383" y2="1877" stroke-width="5"/>
<text x="306" y="1932" font-family="Liberation Sans" font-size="29.1" font-weight="bold" textLength="12.0" lengthAdjust="spacingAndGlyphs" stroke="none" fill="#000" >Э</text>
<line x1="322" y1="1928" x2="350" y2="1918" stroke-width="3"/>
<text x="302" y="1982" font-family="Liberation Sans" font-size="32.0" font-weight="bold" textLength="20.0" lengthAdjust="spacingAndGlyphs" stroke="none" fill="#000" >К3</text>
<line x1="325" y1="1971" x2="356" y2="1971" stroke-width="3"/>
<path d="M325,1971 L338,1965 L338,1977 Z" fill="#000"/>
<text x="300" y="2023" font-family="Liberation Sans" font-size="33.4" font-weight="bold" textLength="22.0" lengthAdjust="spacingAndGlyphs" stroke="none" fill="#000" >К1</text>
<line x1="325" y1="2000" x2="356" y2="2000" stroke-width="3"/>
<path d="M325,2000 L338,1994 L338,2006 Z" fill="#000"/>
<rect x="338" y="2045" width="16" height="40" fill="#000" stroke="none" rx="0"/>
<rect x="342" y="2050" width="8" height="30" fill="#fff" stroke="none" rx="0"/>
<line x1="366" y1="1920" x2="435" y2="1920" stroke-width="6"/>
<line x1="431" y1="1950" x2="431" y2="2004" stroke-width="6"/>
<line x1="366" y1="2003" x2="433" y2="2003" stroke-width="6"/>
<text x="382.0" y="1983.0" font-family="Liberation Sans" font-size="34.9" font-weight="bold" textLength="26.0" lengthAdjust="spacingAndGlyphs" stroke="none" fill="#000" >16</text>
<line x1="456" y1="1920" x2="735" y2="1920" stroke-width="7"/>
<line x1="751" y1="1920" x2="843" y2="1920" stroke-width="7"/>
<line x1="456" y1="1964" x2="727" y2="1964" stroke-width="6"/>
<line x1="456" y1="2004" x2="727" y2="2004" stroke-width="6"/>
<line x1="456" y1="1920" x2="456" y2="2004" stroke-width="6"/>
<line x1="537" y1="1920" x2="537" y2="2004" stroke-width="6"/>
<line x1="634" y1="1920" x2="634" y2="2004" stroke-width="6"/>
<line x1="727" y1="1920" x2="727" y2="2004" stroke-width="6"/>
<line x1="478" y1="1925" x2="478" y2="1962" stroke-width="4"/>
<line x1="495" y1="1966" x2="495" y2="2002" stroke-width="4"/>
<circle cx="485" cy="1913" r="5" fill="#fff" stroke-width="3"/>
<circle cx="601" cy="1913" r="5" fill="#fff" stroke-width="3"/>
<circle cx="725" cy="1913" r="5" fill="#fff" stroke-width="3"/>
<text x="467.0" y="1951.0" font-family="Liberation Sans" font-size="32.0" font-weight="bold" textLength="20.0" lengthAdjust="spacingAndGlyphs" stroke="none" fill="#000" >17</text>
<text x="499.0" y="1951.0" font-family="Liberation Sans" font-size="32.0" font-weight="bold" textLength="20.0" lengthAdjust="spacingAndGlyphs" stroke="none" fill="#000" >18</text>
<text x="571.0" y="1952.0" font-family="Liberation Sans" font-size="32.0" font-weight="bold" textLength="26.0" lengthAdjust="spacingAndGlyphs" stroke="none" fill="#000" >20</text>
<text x="665.0" y="1952.0" font-family="Liberation Sans" font-size="32.0" font-weight="bold" textLength="26.0" lengthAdjust="spacingAndGlyphs" stroke="none" fill="#000" >24</text>
<text x="733.0" y="1952.0" font-family="Liberation Sans" font-size="32.0" font-weight="bold" textLength="20.0" lengthAdjust="spacingAndGlyphs" stroke="none" fill="#000" >21</text>
<text x="496.0" y="1995.0" font-family="Liberation Sans" font-size="32.0" font-weight="bold" textLength="20.0" lengthAdjust="spacingAndGlyphs" stroke="none" fill="#000" >19</text>
<text x="538.0" y="1995.0" font-family="Liberation Sans" font-size="32.0" font-weight="bold" textLength="20.0" lengthAdjust="spacingAndGlyphs" stroke="none" fill="#000" >21</text>
<text x="587.0" y="1998.0" font-family="Liberation Sans" font-size="32.0" font-weight="bold" textLength="20.0" lengthAdjust="spacingAndGlyphs" stroke="none" fill="#000" >23</text>
<text x="656.0" y="1995.0" font-family="Liberation Sans" font-size="32.0" font-weight="bold" textLength="20.0" lengthAdjust="spacingAndGlyphs" stroke="none" fill="#000" >25</text>
<text x="705.0" y="1996.0" font-family="Liberation Sans" font-size="32.0" font-weight="bold" textLength="20.0" lengthAdjust="spacingAndGlyphs" stroke="none" fill="#000" >20</text>
<text x="433.0" y="2030.0" font-family="Liberation Sans" font-size="32.0" font-weight="bold" textLength="26.0" lengthAdjust="spacingAndGlyphs" stroke="none" fill="#000" >29</text>
<text x="555.0" y="2031.0" font-family="Liberation Sans" font-size="32.0" font-weight="bold" textLength="26.0" lengthAdjust="spacingAndGlyphs" stroke="none" fill="#000" >22</text>
<text x="654.0" y="2028.0" font-family="Liberation Sans" font-size="32.0" font-weight="bold" textLength="26.0" lengthAdjust="spacingAndGlyphs" stroke="none" fill="#000" >26</text>
<text x="785.0" y="1950.0" font-family="Liberation Sans" font-size="32.0" font-weight="bold" textLength="28.0" lengthAdjust="spacingAndGlyphs" stroke="none" fill="#000" >27</text>
<rect x="625" y="1876" width="73" height="25" fill="none" stroke-width="6" rx="5"/>
<text x="630" y="1897" font-family="Liberation Sans" font-size="24.7" font-weight="bold" textLength="64.0" lengthAdjust="spacingAndGlyphs" stroke="#000" stroke-width="1.2" fill="#000" >0,000</text>
<line x1="558" y1="1968" x2="558" y2="2000" stroke-width="5"/>
<line x1="574" y1="1968" x2="574" y2="2000" stroke-width="5"/>
<line x1="558" y1="1984" x2="574" y2="1984" stroke-width="3"/>
<line x1="673" y1="1968" x2="673" y2="2000" stroke-width="5"/>
<line x1="689" y1="1968" x2="689" y2="2000" stroke-width="5"/>
<line x1="673" y1="1984" x2="689" y2="1984" stroke-width="3"/>
<line x1="751" y1="1962" x2="840" y2="1962" stroke-width="6"/>
<line x1="363" y1="2036" x2="435" y2="2036" stroke-width="6"/>
<line x1="460" y1="2036" x2="621" y2="2036" stroke-width="6"/>
<line x1="646" y1="2036" x2="731" y2="2036" stroke-width="6"/>
<circle cx="365" cy="2036" r="5" fill="#fff" stroke-width="3"/>
<circle cx="486" cy="2036" r="5" fill="#fff" stroke-width="3"/>
<circle cx="601" cy="2036" r="5" fill="#fff" stroke-width="3"/>
<circle cx="726" cy="2036" r="5" fill="#fff" stroke-width="3"/>
<line x1="601" y1="2036" x2="601" y2="2152" stroke-width="6"/>
<line x1="727" y1="2004" x2="727" y2="2152" stroke-width="6"/>
<line x1="840" y1="1916" x2="840" y2="2160" stroke-width="7"/>
<line x1="663" y1="2040" x2="663" y2="2050" stroke-width="5"/>
<line x1="601" y1="2114" x2="612" y2="2114" stroke-width="5"/>
<line x1="663" y1="2114" x2="675" y2="2114" stroke-width="5"/>
<line x1="663" y1="2114" x2="663" y2="2152" stroke-width="5"/>
<rect x="659" y="2062" width="8" height="55" fill="#000" stroke="none" rx="0"/>
<line x1="667" y1="2068" x2="690" y2="2068" stroke-width="3"/>
<line x1="667" y1="2075" x2="690" y2="2075" stroke-width="3"/>
<line x1="667" y1="2082" x2="690" y2="2082" stroke-width="3"/>
<line x1="667" y1="2089" x2="690" y2="2089" stroke-width="3"/>
<line x1="667" y1="2096" x2="690" y2="2096" stroke-width="3"/>
<line x1="667" y1="2103" x2="690" y2="2103" stroke-width="3"/>
<line x1="667" y1="2110" x2="690" y2="2110" stroke-width="3"/>
<line x1="690" y1="2066" x2="690" y2="2105" stroke-width="3"/>
<text x="444.0" y="2114.0" font-family="Liberation Sans" font-size="37.8" font-weight="bold" textLength="30.0" lengthAdjust="spacingAndGlyphs" stroke="none" fill="#000" >30</text>
<text x="610.0" y="2097.0" font-family="Liberation Sans" font-size="34.9" font-weight="bold" textLength="22.0" lengthAdjust="spacingAndGlyphs" stroke="none" fill="#000" >31</text>
<text x="621.0" y="2152.0" font-family="Liberation Sans" font-size="32.0" font-weight="bold" textLength="22.0" lengthAdjust="spacingAndGlyphs" stroke="none" fill="#000" >14</text>
<text x="770.0" y="2082.0" font-family="Liberation Sans" font-size="37.8" font-weight="bold" textLength="30.0" lengthAdjust="spacingAndGlyphs" stroke="none" fill="#000" >28</text>
<rect x="356" y="2150.5" width="256" height="13" fill="#000" stroke="none" rx="6.5"/>
<rect x="361" y="2154.0" width="246" height="6" fill="#fff" stroke="none" rx="2"/>
<line x1="366" y1="2160.5" x2="375" y2="2153.5" stroke-width="4"/>
<line x1="392" y1="2160.5" x2="401" y2="2153.5" stroke-width="4"/>
<line x1="418" y1="2160.5" x2="427" y2="2153.5" stroke-width="4"/>
<line x1="444" y1="2160.5" x2="453" y2="2153.5" stroke-width="4"/>
<line x1="470" y1="2160.5" x2="479" y2="2153.5" stroke-width="4"/>
<line x1="496" y1="2160.5" x2="505" y2="2153.5" stroke-width="4"/>
<line x1="522" y1="2160.5" x2="531" y2="2153.5" stroke-width="4"/>
<line x1="548" y1="2160.5" x2="557" y2="2153.5" stroke-width="4"/>
<line x1="574" y1="2160.5" x2="583" y2="2153.5" stroke-width="4"/>
<rect x="646" y="2150.5" width="236" height="13" fill="#000" stroke="none" rx="6.5"/>
<rect x="651" y="2154.0" width="226" height="6" fill="#fff" stroke="none" rx="2"/>
<line x1="656" y1="2160.5" x2="665" y2="2153.5" stroke-width="4"/>
<line x1="682" y1="2160.5" x2="691" y2="2153.5" stroke-width="4"/>
<line x1="708" y1="2160.5" x2="717" y2="2153.5" stroke-width="4"/>
<line x1="734" y1="2160.5" x2="743" y2="2153.5" stroke-width="4"/>
<line x1="760" y1="2160.5" x2="769" y2="2153.5" stroke-width="4"/>
<line x1="786" y1="2160.5" x2="795" y2="2153.5" stroke-width="4"/>
<line x1="812" y1="2160.5" x2="821" y2="2153.5" stroke-width="4"/>
<line x1="838" y1="2160.5" x2="847" y2="2153.5" stroke-width="4"/>
<circle cx="394" cy="2150" r="5" fill="#fff" stroke-width="3"/>
<circle cx="458" cy="2150" r="5" fill="#fff" stroke-width="3"/>
<circle cx="600" cy="2150" r="5" fill="#fff" stroke-width="3"/>
<circle cx="727" cy="2150" r="5" fill="#fff" stroke-width="3"/>
<circle cx="840" cy="2150" r="5" fill="#fff" stroke-width="3"/>
<polyline points="594,2163 594,2220 736,2220 736,2163" fill="none" stroke-width="4"/>
<rect x="603" y="2176" width="6" height="6" fill="#000" stroke="none" rx="0"/>
<rect x="603" y="2206" width="6" height="6" fill="#000" stroke="none" rx="0"/>
<rect x="718" y="2174" width="6" height="6" fill="none" stroke-width="2" rx="0"/>
<rect x="718" y="2204" width="6" height="6" fill="none" stroke-width="2" rx="0"/>
<text x="680" y="2204" font-family="Liberation Sans" font-size="34.9" font-weight="bold" textLength="20.0" lengthAdjust="spacingAndGlyphs" stroke="none" fill="#000" >В1</text>
<line x1="673" y1="2205" x2="673" y2="2170" stroke-width="4"/>
<path d="M673,2168 L667,2182 L679,2182 Z" fill="#000"/>
<text x="760" y="2204" font-family="Liberation Sans" font-size="32.0" font-weight="bold" textLength="15.0" lengthAdjust="spacingAndGlyphs" stroke="none" fill="#000" >Т</text>
<line x1="749" y1="2205" x2="749" y2="2170" stroke-width="4"/>
<path d="M749,2168 L743,2182 L755,2182 Z" fill="#000"/>
<line x1="862" y1="2163" x2="862" y2="2193" stroke-width="4"/>
<path d="M862,2195 L856,2181 L868,2181 Z" fill="#000"/>
<text x="851" y="2224" font-family="Liberation Sans" font-size="36.3" font-weight="bold" textLength="24.0" lengthAdjust="spacingAndGlyphs" stroke="none" fill="#000" >К3</text>
<polyline points="875,2162 875,2189 929,2189 929,2162" fill="none" stroke-width="4"/>
<line x1="943" y1="2198" x2="943" y2="2163" stroke-width="4"/>
<path d="M943,2162 L937,2176 L949,2176 Z" fill="#000"/>
<text x="932" y="2224" font-family="Liberation Sans" font-size="36.3" font-weight="bold" textLength="23.0" lengthAdjust="spacingAndGlyphs" stroke="none" fill="#000" >В1</text>
<line x1="883" y1="1903" x2="2044" y2="1903" stroke-width="8"/>
<line x1="842" y1="1903" x2="866" y2="1903" stroke-width="8"/>
<polyline points="866,1903 866,1920 892,1920" fill="none" stroke-width="4"/>
<rect x="892" y="1908" width="20" height="12" fill="#000" stroke="none" rx="0"/>
<line x1="842" y1="2157" x2="2046" y2="2157" stroke-width="7"/>
<line x1="2043" y1="1901" x2="2043" y2="2160" stroke-width="6"/>
<rect x="958" y="1916" width="10" height="10" fill="none" stroke-width="3" rx="3"/>
<rect x="958" y="2143" width="10" height="10" fill="none" stroke-width="3" rx="3"/>
<rect x="1075" y="1916" width="10" height="10" fill="none" stroke-width="3" rx="3"/>
<rect x="1075" y="2143" width="10" height="10" fill="none" stroke-width="3" rx="3"/>
<rect x="1186" y="1916" width="10" height="10" fill="none" stroke-width="3" rx="3"/>
<rect x="1186" y="2143" width="10" height="10" fill="none" stroke-width="3" rx="3"/>
<rect x="1205" y="1916" width="10" height="10" fill="none" stroke-width="3" rx="3"/>
<rect x="1205" y="2143" width="10" height="10" fill="none" stroke-width="3" rx="3"/>
<rect x="1317" y="1916" width="10" height="10" fill="none" stroke-width="3" rx="3"/>
<rect x="1317" y="2143" width="10" height="10" fill="none" stroke-width="3" rx="3"/>
<rect x="1436" y="1916" width="10" height="10" fill="none" stroke-width="3" rx="3"/>
<rect x="1436" y="2143" width="10" height="10" fill="none" stroke-width="3" rx="3"/>
<rect x="1556.5" y="1916" width="10" height="10" fill="none" stroke-width="3" rx="3"/>
<rect x="1556.5" y="2143" width="10" height="10" fill="none" stroke-width="3" rx="3"/>
<rect x="1676.4" y="1916" width="10" height="10" fill="none" stroke-width="3" rx="3"/>
<rect x="1676.4" y="2143" width="10" height="10" fill="none" stroke-width="3" rx="3"/>
<rect x="1795.5" y="1916" width="10" height="10" fill="none" stroke-width="3" rx="3"/>
<rect x="1795.5" y="2143" width="10" height="10" fill="none" stroke-width="3" rx="3"/>
<rect x="1916.7" y="1916" width="10" height="10" fill="none" stroke-width="3" rx="3"/>
<rect x="1916.7" y="2143" width="10" height="10" fill="none" stroke-width="3" rx="3"/>
<rect x="964" y="1934" width="962" height="15" fill="none" stroke-width="3" rx="5"/>
<rect x="964" y="1970" width="962" height="14" fill="none" stroke-width="3" rx="5"/>
<rect x="964" y="1988" width="962" height="16" fill="none" stroke-width="3" rx="5"/>
<rect x="964" y="2025" width="962" height="17" fill="none" stroke-width="3" rx="5"/>
<rect x="964" y="2048" width="962" height="17" fill="none" stroke-width="3" rx="5"/>
<rect x="964" y="2083" width="962" height="17" fill="none" stroke-width="3" rx="5"/>
<line x1="842" y1="1959" x2="2043" y2="1959" stroke-width="2"/>
<rect x="917" y="1956" width="6" height="6" fill="#000" stroke="none" rx="0"/>
<rect x="1981" y="1956" width="6" height="6" fill="#000" stroke="none" rx="0"/>
<line x1="842" y1="2016" x2="2043" y2="2016" stroke-width="2"/>
<rect x="917" y="2013" width="6" height="6" fill="#000" stroke="none" rx="0"/>
<rect x="1981" y="2013" width="6" height="6" fill="#000" stroke="none" rx="0"/>
<line x1="842" y1="2075" x2="2043" y2="2075" stroke-width="2"/>
<rect x="917" y="2072" width="6" height="6" fill="#000" stroke="none" rx="0"/>
<rect x="1981" y="2072" width="6" height="6" fill="#000" stroke="none" rx="0"/>
<rect x="1047" y="1949" width="37" height="14" fill="none" stroke-width="4" rx="5"/>
<line x1="1060" y1="1947" x2="1063" y2="1927" stroke-width="2"/>
<rect x="1047" y="2005" width="37" height="14" fill="none" stroke-width="4" rx="5"/>
<line x1="1060" y1="2003" x2="1063" y2="1983" stroke-width="2"/>
<rect x="1047" y="2064" width="37" height="14" fill="none" stroke-width="4" rx="5"/>
<line x1="1060" y1="2062" x2="1063" y2="2042" stroke-width="2"/>
<rect x="1203" y="2110" width="100" height="27" fill="none" stroke-width="3" rx="0"/>
<text x="1210" y="2134" font-family="Liberation Sans" font-size="29.1" font-weight="normal" textLength="87.0" lengthAdjust="spacingAndGlyphs" stroke="#000" stroke-width="0.8" fill="#000" >0,000</text>
<text x="1471.0" y="2137.0" font-family="Liberation Sans" font-size="34.9" font-weight="bold" textLength="30.0" lengthAdjust="spacingAndGlyphs" stroke="none" fill="#000" >15</text>
<line x1="984" y1="2124" x2="1020" y2="2124" stroke-width="3"/>
<line x1="1020" y1="2124" x2="1040" y2="2096" stroke-width="3"/>
<text x="1003" y="2123" font-family="Liberation Sans" font-size="29.1" font-weight="bold" textLength="10.0" lengthAdjust="spacingAndGlyphs" stroke="none" fill="#000" >1</text>
<line x1="1036" y1="2124" x2="1070" y2="2124" stroke-width="3"/>
<line x1="1070" y1="2124" x2="1092" y2="2094" stroke-width="3"/>
<text x="1050" y="2123" font-family="Liberation Sans" font-size="30.5" font-weight="bold" textLength="14.0" lengthAdjust="spacingAndGlyphs" stroke="none" fill="#000" >2</text>
<polyline points="1953,2158 1953,2189 2011,2189 2011,2158" fill="none" stroke-width="4"/>
<rect x="1968" y="1906" width="43" height="17" fill="#000" stroke="none" rx="0"/>
<rect x="1970.15" y="1909.4" width="4.3" height="10.2" fill="#fff" stroke="none" rx="2"/>
<rect x="1978.75" y="1909.4" width="4.3" height="10.2" fill="#fff" stroke="none" rx="2"/>
<rect x="1987.3500000000001" y="1909.4" width="4.3" height="10.2" fill="#fff" stroke="none" rx="2"/>
<rect x="1995.95" y="1909.4" width="4.3" height="10.2" fill="#fff" stroke="none" rx="2"/>
<rect x="2004.5500000000002" y="1909.4" width="4.3" height="10.2" fill="#fff" stroke="none" rx="2"/>
<polyline points="2044,1904 2071,1904 2071,1860" fill="none" stroke-width="6"/>
<line x1="346" y1="2646" x2="900" y2="2646" stroke-width="3"/>
<path d="M581,2630 L581,2640 L585,2646 L581,2652 L582,2662" stroke-width="3"/>
<line x1="894" y1="2630" x2="894" y2="2954" stroke-width="3"/>
<path d="M880,2790 L894,2785 L908,2780" stroke-width="3"/>
<line x1="362" y1="2646" x2="362" y2="2690" stroke-width="3"/>
<line x1="368" y1="2646" x2="368" y2="2690" stroke-width="2"/>
<line x1="300" y1="2685" x2="300" y2="2932" stroke-width="3"/>
<line x1="263" y1="2692" x2="347" y2="2692" stroke-width="3"/>
<line x1="263" y1="2931" x2="347" y2="2931" stroke-width="3"/>
<line x1="292" y1="2700" x2="308" y2="2684" stroke-width="3"/>
<line x1="292" y1="2939" x2="308" y2="2923" stroke-width="3"/>
<circle cx="248.7" cy="2692" r="25.5" fill="none" stroke-width="3.5"/>
<text x="240.2" y="2706.0" font-family="Liberation Sans" font-size="40.7" font-weight="normal" textLength="17.0" lengthAdjust="spacingAndGlyphs" stroke="#000" stroke-width="1.5" fill="#000" >Б</text>
<circle cx="248.7" cy="2931" r="25.5" fill="none" stroke-width="3.5"/>
<text x="239.2" y="2945.0" font-family="Liberation Sans" font-size="40.7" font-weight="normal" textLength="19.0" lengthAdjust="spacingAndGlyphs" stroke="#000" stroke-width="1.5" fill="#000" >А</text>
<g transform="translate(288,2809) rotate(-90)"><text x="-43.0" y="11.5" font-family="Liberation Sans" font-size="33.4" font-weight="normal" textLength="86" lengthAdjust="spacingAndGlyphs" stroke="none" fill="#000">12000</text></g>
<line x1="362" y1="2934" x2="362" y2="2955" stroke-width="3"/>
<line x1="362" y1="2965" x2="362" y2="2975" stroke-width="3"/>
<line x1="362" y1="2985" x2="362" y2="3011" stroke-width="3"/>
<line x1="840" y1="2934" x2="840" y2="2955" stroke-width="3"/>
<line x1="840" y1="2965" x2="840" y2="2975" stroke-width="3"/>
<line x1="840" y1="2985" x2="840" y2="3011" stroke-width="3"/>
<line x1="362" y1="2984" x2="842" y2="2984" stroke-width="3"/>
<line x1="354" y1="2992" x2="370" y2="2976" stroke-width="3"/>
<line x1="832" y1="2992" x2="848" y2="2976" stroke-width="3"/>
<circle cx="362" cy="3037.5" r="25.5" fill="none" stroke-width="3.5"/>
<text x="357.0" y="3051.5" font-family="Liberation Sans" font-size="40.7" font-weight="normal" textLength="10.0" lengthAdjust="spacingAndGlyphs" stroke="#000" stroke-width="1.5" fill="#000" >1</text>
<circle cx="839.8" cy="3037.5" r="25.5" fill="none" stroke-width="3.5"/>
<text x="831.8" y="3051.5" font-family="Liberation Sans" font-size="40.7" font-weight="normal" textLength="16.0" lengthAdjust="spacingAndGlyphs" stroke="#000" stroke-width="1.5" fill="#000" >5</text>
<text x="552" y="2980" font-family="Liberation Sans" font-size="34.9" font-weight="normal" textLength="100.0" lengthAdjust="spacingAndGlyphs" stroke="#000" stroke-width="0.8" fill="#000" >24000</text>
<line x1="357" y1="2692" x2="844" y2="2692" stroke-width="7"/>
<rect x="369" y="2673" width="10" height="9" fill="none" stroke-width="3" rx="3"/>
<rect x="369" y="2688" width="10" height="10" fill="none" stroke-width="3" rx="3"/>
<rect x="476.4" y="2673" width="10" height="9" fill="none" stroke-width="3" rx="3"/>
<rect x="476.4" y="2688" width="10" height="10" fill="none" stroke-width="3" rx="3"/>
<rect x="592.3" y="2673" width="10" height="9" fill="none" stroke-width="3" rx="3"/>
<rect x="592.3" y="2688" width="10" height="10" fill="none" stroke-width="3" rx="3"/>
<rect x="716.6" y="2673" width="10" height="9" fill="none" stroke-width="3" rx="3"/>
<rect x="716.6" y="2688" width="10" height="10" fill="none" stroke-width="3" rx="3"/>
<rect x="834.8" y="2673" width="10" height="9" fill="none" stroke-width="3" rx="3"/>
<rect x="834.8" y="2688" width="10" height="10" fill="none" stroke-width="3" rx="3"/>
<rect x="357" y="2688" width="12" height="92" fill="#000" stroke="none" rx="0"/>
<line x1="359" y1="2700" x2="367" y2="2692" stroke="#fff" stroke-width="2"/>
<line x1="359" y1="2716" x2="367" y2="2708" stroke="#fff" stroke-width="2"/>
<line x1="359" y1="2732" x2="367" y2="2724" stroke="#fff" stroke-width="2"/>
<line x1="359" y1="2748" x2="367" y2="2740" stroke="#fff" stroke-width="2"/>
<line x1="359" y1="2764" x2="367" y2="2756" stroke="#fff" stroke-width="2"/>
<line x1="842" y1="2690" x2="842" y2="2930" stroke-width="6"/>
<line x1="369" y1="2774.5" x2="413" y2="2774.5" stroke-width="8"/>
<line x1="430" y1="2774.5" x2="608" y2="2774.5" stroke-width="8"/>
<line x1="627" y1="2774.5" x2="793" y2="2774.5" stroke-width="8"/>
<line x1="812" y1="2774.5" x2="835" y2="2774.5" stroke-width="8"/>
<line x1="369" y1="2807" x2="400" y2="2807" stroke-width="8"/>
<line x1="415" y1="2807" x2="501" y2="2807" stroke-width="8"/>
<line x1="520" y1="2807" x2="576" y2="2807" stroke-width="8"/>
<line x1="596" y1="2807" x2="608" y2="2807" stroke-width="8"/>
<line x1="627" y1="2807" x2="678" y2="2807" stroke-width="8"/>
<line x1="691" y1="2807" x2="740" y2="2807" stroke-width="8"/>
<line x1="754" y1="2807" x2="798" y2="2807" stroke-width="8"/>
<line x1="817" y1="2807" x2="844" y2="2807" stroke-width="8"/>
<line x1="538" y1="2694" x2="538" y2="2778" stroke-width="6"/>
<line x1="666" y1="2694" x2="666" y2="2778" stroke-width="6"/>
<polyline points="668,2726 719,2726 719,2778" fill="none" stroke-width="6"/>
<line x1="457" y1="2731" x2="457" y2="2778" stroke-width="5"/>
<line x1="457" y1="2731" x2="470" y2="2731" stroke-width="5"/>
<line x1="484" y1="2731" x2="538" y2="2731" stroke-width="5"/>
<rect x="451" y="2745" width="9" height="24" fill="none" stroke-width="3" rx="0"/>
<line x1="429.5" y1="2809" x2="429.5" y2="2928" stroke-width="6"/>
<line x1="482.8" y1="2809" x2="482.8" y2="2928" stroke-width="6"/>
<line x1="545.4" y1="2809" x2="545.4" y2="2928" stroke-width="6"/>
<line x1="601" y1="2809" x2="601" y2="2928" stroke-width="6"/>
<line x1="659" y1="2809" x2="659" y2="2928" stroke-width="6"/>
<line x1="717" y1="2809" x2="717" y2="2928" stroke-width="6"/>
<line x1="777" y1="2809" x2="777" y2="2928" stroke-width="6"/>
<line x1="429.5" y1="2830" x2="429.5" y2="2840" stroke-width="0"/>
<line x1="365" y1="2866" x2="400" y2="2866" stroke-width="6"/>
<line x1="405" y1="2866" x2="430" y2="2866" stroke-width="6"/>
<polyline points="540,2812 575,2812 575,2857 545,2857" fill="none" stroke-width="5"/>
<rect x="552" y="2810" width="16" height="12" fill="none" stroke-width="3" rx="2"/>
<rect x="663" y="2834" width="52" height="64" fill="none" stroke-width="4" rx="0"/>
<line x1="666" y1="2839.0" x2="688" y2="2839.0" stroke-width="3"/>
<line x1="690" y1="2839.0" x2="712" y2="2839.0" stroke-width="3"/>
<line x1="666" y1="2845.5" x2="688" y2="2845.5" stroke-width="3"/>
<line x1="690" y1="2845.5" x2="712" y2="2845.5" stroke-width="3"/>
<line x1="666" y1="2852.0" x2="688" y2="2852.0" stroke-width="3"/>
<line x1="690" y1="2852.0" x2="712" y2="2852.0" stroke-width="3"/>
<line x1="666" y1="2858.5" x2="688" y2="2858.5" stroke-width="3"/>
<line x1="690" y1="2858.5" x2="712" y2="2858.5" stroke-width="3"/>
<line x1="666" y1="2865.0" x2="688" y2="2865.0" stroke-width="3"/>
<line x1="690" y1="2865.0" x2="712" y2="2865.0" stroke-width="3"/>
<line x1="666" y1="2871.5" x2="688" y2="2871.5" stroke-width="3"/>
<line x1="690" y1="2871.5" x2="712" y2="2871.5" stroke-width="3"/>
<line x1="666" y1="2878.0" x2="688" y2="2878.0" stroke-width="3"/>
<line x1="690" y1="2878.0" x2="712" y2="2878.0" stroke-width="3"/>
<line x1="666" y1="2884.5" x2="688" y2="2884.5" stroke-width="3"/>
<line x1="690" y1="2884.5" x2="712" y2="2884.5" stroke-width="3"/>
<line x1="666" y1="2891.0" x2="688" y2="2891.0" stroke-width="3"/>
<line x1="690" y1="2891.0" x2="712" y2="2891.0" stroke-width="3"/>
<polyline points="357,2800 337,2800 337,2866 357,2866" fill="none" stroke-width="4"/>
<line x1="340" y1="2805.0" x2="355" y2="2805.0" stroke-width="2"/>
<line x1="340" y1="2811.5" x2="355" y2="2811.5" stroke-width="2"/>
<line x1="340" y1="2818.0" x2="355" y2="2818.0" stroke-width="2"/>
<line x1="340" y1="2824.5" x2="355" y2="2824.5" stroke-width="2"/>
<line x1="340" y1="2831.0" x2="355" y2="2831.0" stroke-width="2"/>
<line x1="340" y1="2837.5" x2="355" y2="2837.5" stroke-width="2"/>
<line x1="340" y1="2844.0" x2="355" y2="2844.0" stroke-width="2"/>
<line x1="340" y1="2850.5" x2="355" y2="2850.5" stroke-width="2"/>
<line x1="340" y1="2857.0" x2="355" y2="2857.0" stroke-width="2"/>
<polyline points="357,2770 345,2770 345,2800" fill="none" stroke-width="3"/>
<rect x="355" y="2923.0" width="538" height="13" fill="#000" stroke="none" rx="6.5"/>
<rect x="360" y="2926.5" width="528" height="6" fill="#fff" stroke="none" rx="2"/>
<line x1="365" y1="2933.0" x2="374" y2="2926.0" stroke-width="4"/>
<line x1="391" y1="2933.0" x2="400" y2="2926.0" stroke-width="4"/>
<line x1="417" y1="2933.0" x2="426" y2="2926.0" stroke-width="4"/>
<line x1="443" y1="2933.0" x2="452" y2="2926.0" stroke-width="4"/>
<line x1="469" y1="2933.0" x2="478" y2="2926.0" stroke-width="4"/>
<line x1="495" y1="2933.0" x2="504" y2="2926.0" stroke-width="4"/>
<line x1="521" y1="2933.0" x2="530" y2="2926.0" stroke-width="4"/>
<line x1="547" y1="2933.0" x2="556" y2="2926.0" stroke-width="4"/>
<line x1="573" y1="2933.0" x2="582" y2="2926.0" stroke-width="4"/>
<line x1="599" y1="2933.0" x2="608" y2="2926.0" stroke-width="4"/>
<line x1="625" y1="2933.0" x2="634" y2="2926.0" stroke-width="4"/>
<line x1="651" y1="2933.0" x2="660" y2="2926.0" stroke-width="4"/>
<line x1="677" y1="2933.0" x2="686" y2="2926.0" stroke-width="4"/>
<line x1="703" y1="2933.0" x2="712" y2="2926.0" stroke-width="4"/>
<line x1="729" y1="2933.0" x2="738" y2="2926.0" stroke-width="4"/>
<line x1="755" y1="2933.0" x2="764" y2="2926.0" stroke-width="4"/>
<line x1="781" y1="2933.0" x2="790" y2="2926.0" stroke-width="4"/>
<line x1="807" y1="2933.0" x2="816" y2="2926.0" stroke-width="4"/>
<line x1="833" y1="2933.0" x2="842" y2="2926.0" stroke-width="4"/>
<line x1="859" y1="2933.0" x2="868" y2="2926.0" stroke-width="4"/>
<rect x="369" y="2919" width="10" height="10" fill="none" stroke-width="3" rx="3"/>
<rect x="477.8" y="2919" width="10" height="10" fill="none" stroke-width="3" rx="3"/>
<rect x="596" y="2919" width="10" height="10" fill="none" stroke-width="3" rx="3"/>
<rect x="712" y="2919" width="10" height="10" fill="none" stroke-width="3" rx="3"/>
<rect x="834.8" y="2919" width="10" height="10" fill="none" stroke-width="3" rx="3"/>
<rect x="367" y="2787" width="6" height="6" fill="#000" stroke="none" rx="0"/>
<circle cx="527" cy="2790" r="4" fill="#fff" stroke-width="3"/>
<text x="384.0" y="2752.5" font-family="Liberation Sans" font-size="33.4" font-weight="normal" textLength="30.0" lengthAdjust="spacingAndGlyphs" stroke="#000" stroke-width="1.6" fill="#000" >32</text>
<text x="492.0" y="2722.5" font-family="Liberation Sans" font-size="33.4" font-weight="normal" textLength="28.0" lengthAdjust="spacingAndGlyphs" stroke="#000" stroke-width="1.6" fill="#000" >33</text>
<text x="489.0" y="2766.5" font-family="Liberation Sans" font-size="33.4" font-weight="normal" textLength="30.0" lengthAdjust="spacingAndGlyphs" stroke="#000" stroke-width="1.6" fill="#000" >34</text>
<text x="588.0" y="2747.5" font-family="Liberation Sans" font-size="33.4" font-weight="normal" textLength="30.0" lengthAdjust="spacingAndGlyphs" stroke="#000" stroke-width="1.6" fill="#000" >35</text>
<text x="675.0" y="2761.5" font-family="Liberation Sans" font-size="33.4" font-weight="normal" textLength="28.0" lengthAdjust="spacingAndGlyphs" stroke="#000" stroke-width="1.6" fill="#000" >36</text>
<text x="762.0" y="2745.5" font-family="Liberation Sans" font-size="33.4" font-weight="normal" textLength="30.0" lengthAdjust="spacingAndGlyphs" stroke="#000" stroke-width="1.6" fill="#000" >37</text>
<text x="517.0" y="2801.5" font-family="Liberation Sans" font-size="33.4" font-weight="normal" textLength="22.0" lengthAdjust="spacingAndGlyphs" stroke="#000" stroke-width="1.6" fill="#000" >38</text>
<text x="376.0" y="2849.5" font-family="Liberation Sans" font-size="33.4" font-weight="normal" textLength="28.0" lengthAdjust="spacingAndGlyphs" stroke="#000" stroke-width="1.6" fill="#000" >39</text>
<text x="440.0" y="2875.5" font-family="Liberation Sans" font-size="33.4" font-weight="normal" textLength="26.0" lengthAdjust="spacingAndGlyphs" stroke="#000" stroke-width="1.6" fill="#000" >41</text>
<text x="493.0" y="2877.5" font-family="Liberation Sans" font-size="33.4" font-weight="normal" textLength="30.0" lengthAdjust="spacingAndGlyphs" stroke="#000" stroke-width="1.6" fill="#000" >42</text>
<text x="549.0" y="2847.5" font-family="Liberation Sans" font-size="33.4" font-weight="normal" textLength="20.0" lengthAdjust="spacingAndGlyphs" stroke="#000" stroke-width="1.6" fill="#000" >43</text>
<text x="553.0" y="2898.5" font-family="Liberation Sans" font-size="33.4" font-weight="normal" textLength="32.0" lengthAdjust="spacingAndGlyphs" stroke="#000" stroke-width="1.6" fill="#000" >44</text>
<text x="611.0" y="2891.5" font-family="Liberation Sans" font-size="33.4" font-weight="normal" textLength="32.0" lengthAdjust="spacingAndGlyphs" stroke="#000" stroke-width="1.6" fill="#000" >45</text>
<text x="731.0" y="2886.5" font-family="Liberation Sans" font-size="33.4" font-weight="normal" textLength="32.0" lengthAdjust="spacingAndGlyphs" stroke="#000" stroke-width="1.6" fill="#000" >46</text>
<text x="784.0" y="2886.5" font-family="Liberation Sans" font-size="33.4" font-weight="normal" textLength="32.0" lengthAdjust="spacingAndGlyphs" stroke="#000" stroke-width="1.6" fill="#000" >47</text>
<text x="378.0" y="2905.5" font-family="Liberation Sans" font-size="33.4" font-weight="normal" textLength="30.0" lengthAdjust="spacingAndGlyphs" stroke="#000" stroke-width="1.6" fill="#000" >40</text>
<text x="1125" y="2753" font-family="Liberation Sans" font-size="29.1" font-weight="normal" textLength="80.0" lengthAdjust="spacingAndGlyphs" stroke="#000" stroke-width="0.8" fill="#000" >6,900</text>
<line x1="1119" y1="2755" x2="1212" y2="2755" stroke-width="3"/>
<line x1="1212" y1="2755" x2="1212" y2="2785" stroke-width="3"/>
<path d="M1198,2770 L1212,2785 L1226,2770" stroke-width="4"/>
<line x1="1179" y1="2785" x2="1290" y2="2785" stroke-width="3"/>
<text x="1116" y="2894" font-family="Liberation Sans" font-size="32.0" font-weight="normal" textLength="94.0" lengthAdjust="spacingAndGlyphs" stroke="#000" stroke-width="0.8" fill="#000" >-0,150</text>
<line x1="1115" y1="2897" x2="1212" y2="2897" stroke-width="3"/>
<line x1="1212" y1="2897" x2="1212" y2="2929" stroke-width="3"/>
<path d="M1198,2914 L1212,2929 L1226,2914" stroke-width="4"/>
<line x1="1182" y1="2930" x2="1226" y2="2930" stroke-width="3"/>
<line x1="1244" y1="2930" x2="1300" y2="2930" stroke-width="4"/>
<line x1="1300" y1="2930" x2="1318" y2="2926" stroke-width="4"/>
<rect x="1309" y="2777" width="272" height="10" rx="5" fill="none" stroke-width="5"/>
<line x1="1320" y1="2786" x2="1336" y2="2778" stroke-width="2"/>
<line x1="1352" y1="2786" x2="1368" y2="2778" stroke-width="2"/>
<line x1="1384" y1="2786" x2="1400" y2="2778" stroke-width="2"/>
<line x1="1416" y1="2786" x2="1432" y2="2778" stroke-width="2"/>
<line x1="1448" y1="2786" x2="1464" y2="2778" stroke-width="2"/>
<line x1="1480" y1="2786" x2="1496" y2="2778" stroke-width="2"/>
<line x1="1512" y1="2786" x2="1528" y2="2778" stroke-width="2"/>
<line x1="1544" y1="2786" x2="1560" y2="2778" stroke-width="2"/>
<line x1="1316" y1="2786" x2="1316" y2="2927" stroke-width="5"/>
<line x1="1331" y1="2786" x2="1331" y2="2927" stroke-width="4"/>
<line x1="1323" y1="2790" x2="1323" y2="2925" stroke-width="2"/>
<line x1="1331" y1="2804" x2="1558" y2="2804" stroke-width="4"/>
<line x1="1324" y1="2926" x2="1563" y2="2926" stroke-width="4"/>
<line x1="1558" y1="2790" x2="1558" y2="2925" stroke-width="4"/>
<line x1="1572" y1="2786" x2="1572" y2="2925" stroke-width="4"/>
<line x1="1565" y1="2790" x2="1565" y2="2900" stroke-width="2"/>
<rect x="1337" y="2813" width="65" height="28" fill="none" stroke-width="3" rx="0"/>
<text x="1340" y="2838" font-family="Liberation Sans" font-size="32.0" font-weight="normal" textLength="58.0" lengthAdjust="spacingAndGlyphs" stroke="#000" stroke-width="0.8" fill="#000" >6,000</text>
<line x1="1402" y1="2813" x2="1412" y2="2823" stroke-width="3"/>
<text x="1337" y="2895" font-family="Liberation Sans" font-size="30.5" font-weight="normal" textLength="63.0" lengthAdjust="spacingAndGlyphs" stroke="#000" stroke-width="0.8" fill="#000" >0,000</text>
<line x1="1336" y1="2897" x2="1400" y2="2897" stroke-width="3"/>
<line x1="1400" y1="2897" x2="1400" y2="2925" stroke-width="3"/>
<path d="M1386,2910 L1400,2925 L1414,2910" stroke-width="4"/>
<rect x="1548" y="2900" width="12" height="26" fill="#000" stroke="none" rx="0"/>
<line x1="1549" y1="2906" x2="1559" y2="2906" stroke-width="2"/>
<line x1="1549" y1="2912" x2="1559" y2="2912" stroke-width="2"/>
<line x1="1549" y1="2918" x2="1559" y2="2918" stroke-width="2"/>
<rect x="1573" y="2801" width="244" height="10" rx="2" fill="none" stroke-width="5"/>
<line x1="1585" y1="2810" x2="1600" y2="2802" stroke-width="2"/>
<line x1="1618" y1="2810" x2="1633" y2="2802" stroke-width="2"/>
<line x1="1651" y1="2810" x2="1666" y2="2802" stroke-width="2"/>
<line x1="1684" y1="2810" x2="1699" y2="2802" stroke-width="2"/>
<line x1="1717" y1="2810" x2="1732" y2="2802" stroke-width="2"/>
<line x1="1750" y1="2810" x2="1765" y2="2802" stroke-width="2"/>
<line x1="1783" y1="2810" x2="1798" y2="2802" stroke-width="2"/>
<line x1="1580" y1="2830" x2="1818" y2="2830" stroke-width="3"/>
<line x1="1566" y1="2898" x2="1910" y2="2898" stroke-width="4"/>
<line x1="1582" y1="2810" x2="1582" y2="2898" stroke-width="3"/>
<line x1="1613" y1="2810" x2="1613" y2="2898" stroke-width="6"/>
<rect x="1805" y="2805" width="13" height="93" fill="#000" stroke="none" rx="0"/>
<rect x="1808" y="2840" width="6" height="18" fill="#fff" stroke="none" rx="0"/>
<rect x="1618" y="2836" width="63" height="25" fill="none" stroke-width="3" rx="0"/>
<text x="1620" y="2859" font-family="Liberation Sans" font-size="30.5" font-weight="normal" textLength="58.0" lengthAdjust="spacingAndGlyphs" stroke="#000" stroke-width="0.8" fill="#000" >4,800</text>
<line x1="1681" y1="2836" x2="1690" y2="2845" stroke-width="3"/>
<text x="1698" y="2867" font-family="Liberation Sans" font-size="29.1" font-weight="normal" textLength="64.0" lengthAdjust="spacingAndGlyphs" stroke="#000" stroke-width="0.8" fill="#000" >1,200</text>
<line x1="1696" y1="2872" x2="1766" y2="2872" stroke-width="3"/>
<line x1="1766" y1="2872" x2="1766" y2="2898" stroke-width="3"/>
<path d="M1752,2884 L1766,2898 L1780,2884" stroke-width="4"/>
<path d="M1818,2802 L1944,2802 L1946,2812 L1940,2822 L1890,2830 L1822,2830 Z" fill="none" stroke-width="4"/>
<line x1="1826" y1="2830" x2="1826" y2="2898" stroke-width="3"/>
<line x1="1894" y1="2830" x2="1894" y2="2898" stroke-width="3"/>
<line x1="1901" y1="2830" x2="1901" y2="2898" stroke-width="3"/>
<text x="1838" y="2867" font-family="Liberation Sans" font-size="27.6" font-weight="normal" textLength="46.0" lengthAdjust="spacingAndGlyphs" stroke="#000" stroke-width="0.8" fill="#000" >1,180</text>
<line x1="1834" y1="2872" x2="1884" y2="2872" stroke-width="3"/>
<line x1="1834" y1="2872" x2="1834" y2="2898" stroke-width="3"/>
<path d="M1822,2886 L1834,2898 L1846,2886" stroke-width="3"/>
<polyline points="1901,2898 1910,2898 1910,2925 2014,2925" fill="none" stroke-width="4"/>
<line x1="2024" y1="2925" x2="2104" y2="2925" stroke-width="4"/>
<text x="2055" y="2892" font-family="Liberation Sans" font-size="30.5" font-weight="normal" textLength="78.0" lengthAdjust="spacingAndGlyphs" stroke="#000" stroke-width="0.8" fill="#000" >0,000</text>
<line x1="2051" y1="2896" x2="2158" y2="2896" stroke-width="3"/>
<line x1="2051" y1="2896" x2="2051" y2="2925" stroke-width="3"/>
<path d="M2037,2910 L2051,2925 L2065,2910" stroke-width="4"/>
<line x1="1323" y1="2930" x2="1323" y2="2960" stroke-width="2"/>
<line x1="1323" y1="2968" x2="1323" y2="2975" stroke-width="2"/>
<line x1="1323" y1="2982" x2="1323" y2="2997" stroke-width="2"/>
<line x1="1563" y1="2930" x2="1563" y2="2960" stroke-width="2"/>
<line x1="1563" y1="2968" x2="1563" y2="2975" stroke-width="2"/>
<line x1="1563" y1="2982" x2="1563" y2="2997" stroke-width="2"/>
<line x1="1570" y1="2930" x2="1570" y2="2960" stroke-width="2"/>
<line x1="1570" y1="2968" x2="1570" y2="2975" stroke-width="2"/>
<line x1="1570" y1="2982" x2="1570" y2="2997" stroke-width="2"/>
<line x1="1811" y1="2930" x2="1811" y2="2960" stroke-width="2"/>
<line x1="1811" y1="2968" x2="1811" y2="2975" stroke-width="2"/>
<line x1="1811" y1="2982" x2="1811" y2="2997" stroke-width="2"/>
<line x1="1816" y1="2930" x2="1816" y2="2960" stroke-width="2"/>
<line x1="1816" y1="2968" x2="1816" y2="2975" stroke-width="2"/>
<line x1="1816" y1="2982" x2="1816" y2="2997" stroke-width="2"/>
<line x1="1896" y1="2930" x2="1896" y2="2960" stroke-width="2"/>
<line x1="1896" y1="2968" x2="1896" y2="2975" stroke-width="2"/>
<line x1="1896" y1="2982" x2="1896" y2="2997" stroke-width="2"/>
<line x1="1323" y1="2988" x2="1902" y2="2988" stroke-width="3"/>
<line x1="1315" y1="2996" x2="1331" y2="2980" stroke-width="3"/>
<line x1="1803" y1="2996" x2="1819" y2="2980" stroke-width="3"/>
<line x1="1888" y1="2996" x2="1904" y2="2980" stroke-width="3"/>
<text x="1468" y="2987" font-family="Liberation Sans" font-size="30.5" font-weight="normal" textLength="88.0" lengthAdjust="spacingAndGlyphs" stroke="#000" stroke-width="0.8" fill="#000" >24300</text>
<text x="1770" y="2981" font-family="Liberation Sans" font-size="27.6" font-weight="normal" textLength="37.0" lengthAdjust="spacingAndGlyphs" stroke="#000" stroke-width="0.8" fill="#000" >300</text>
<text x="1826" y="2983" font-family="Liberation Sans" font-size="30.5" font-weight="normal" textLength="60.0" lengthAdjust="spacingAndGlyphs" stroke="#000" stroke-width="0.8" fill="#000" >3830</text>
<line x1="1323" y1="2997" x2="1323" y2="3010" stroke-width="3"/>
<polyline points="1563,2997 1563,3000 1545,3010" fill="none" stroke-width="3"/>
<polyline points="1570,2997 1570,3000 1590,3010" fill="none" stroke-width="3"/>
<polyline points="1811,2997 1798,3010" fill="none" stroke-width="3"/>
<polyline points="1816,2997 1832,3010" fill="none" stroke-width="3"/>
<line x1="1896" y1="2997" x2="1896" y2="3008" stroke-width="3"/>
<circle cx="1321" cy="3035.8" r="26" fill="none" stroke-width="3.5"/>
<text x="1311.0" y="3050.8" font-family="Liberation Sans" font-size="43.6" font-weight="normal" textLength="20.0" lengthAdjust="spacingAndGlyphs" stroke="#000" stroke-width="1.5" fill="#000" >А</text>
<circle cx="1540" cy="3035.8" r="26" fill="none" stroke-width="3.5"/>
<text x="1531.0" y="3050.8" font-family="Liberation Sans" font-size="43.6" font-weight="normal" textLength="18.0" lengthAdjust="spacingAndGlyphs" stroke="#000" stroke-width="1.5" fill="#000" >Б</text>
<circle cx="1602" cy="3035.8" r="26" fill="none" stroke-width="3.5"/>
<text x="1593.0" y="3050.8" font-family="Liberation Sans" font-size="43.6" font-weight="normal" textLength="18.0" lengthAdjust="spacingAndGlyphs" stroke="#000" stroke-width="1.5" fill="#000" >В</text>
<circle cx="1789" cy="3035.8" r="26" fill="none" stroke-width="3.5"/>
<text x="1781.0" y="3050.8" font-family="Liberation Sans" font-size="43.6" font-weight="normal" textLength="16.0" lengthAdjust="spacingAndGlyphs" stroke="#000" stroke-width="1.5" fill="#000" >Г</text>
<circle cx="1843.6" cy="3035.8" r="26" fill="none" stroke-width="3.5"/>
<path d="M1840.6,3020.8 L1850.6,3020.8 L1850.6,3046.8 M1840.6,3020.8 L1835.6,3046.8 M1831.6,3046.8 L1854.6,3046.8 L1854.6,3053.8 M1831.6,3046.8 L1831.6,3053.8" stroke-width="4" fill="none"/>
<circle cx="1898" cy="3035.8" r="26" fill="none" stroke-width="3.5"/>
<text x="1890.0" y="3050.8" font-family="Liberation Sans" font-size="43.6" font-weight="normal" textLength="16.0" lengthAdjust="spacingAndGlyphs" stroke="#000" stroke-width="1.5" fill="#000" >Е</text>
</g></svg></body></html>
